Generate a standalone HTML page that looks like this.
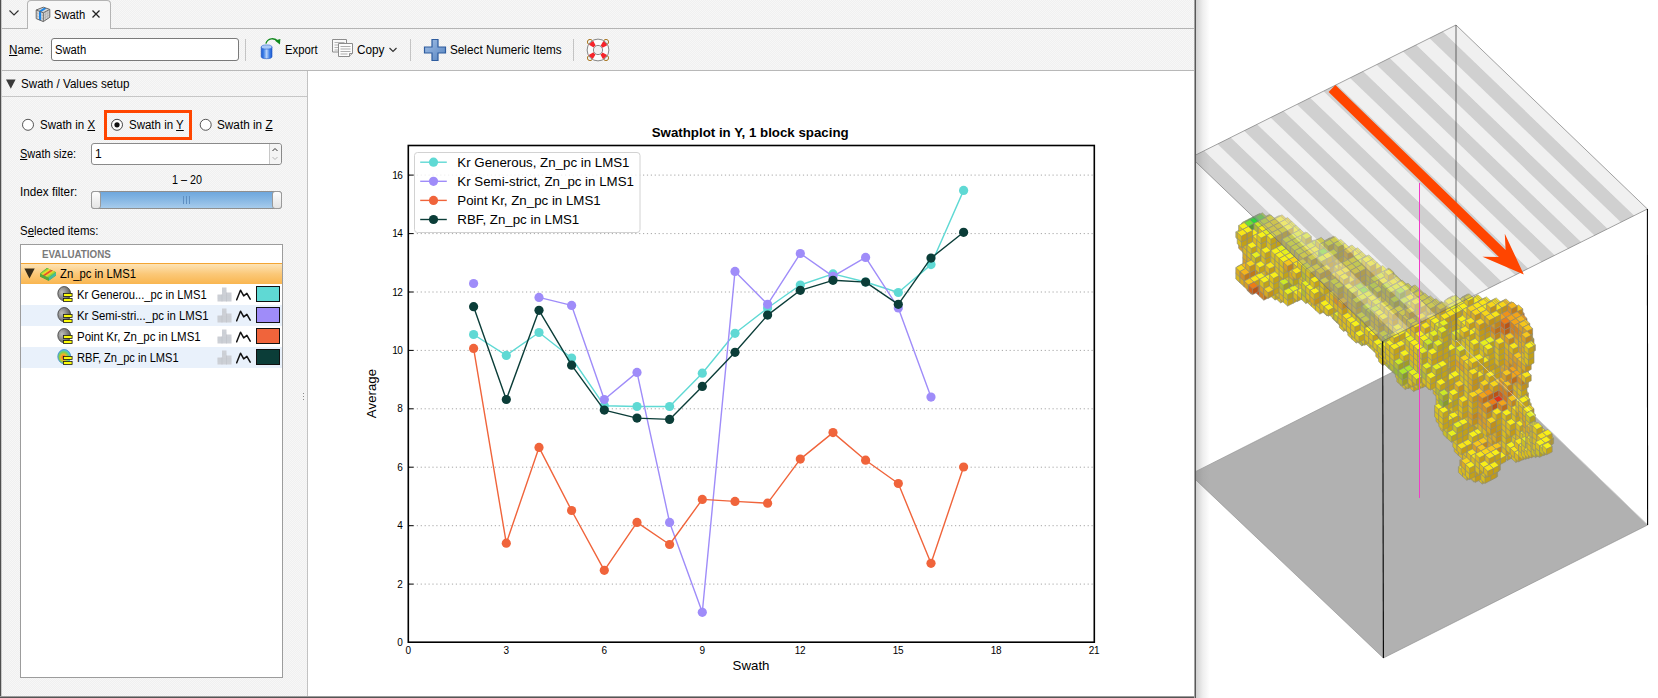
<!DOCTYPE html>
<html><head><meta charset="utf-8"><title>Swath</title>
<style>
*{box-sizing:border-box;margin:0;padding:0}
html,body{width:1658px;height:698px;overflow:hidden;background:#fff}
body{position:relative;font-family:"Liberation Sans",sans-serif;font-size:12px;color:#000}
.a{position:absolute}
.t{position:absolute;white-space:nowrap;line-height:14px;height:14px;transform-origin:0 50%}
u{text-decoration:underline;text-underline-offset:1px}
#win{position:absolute;left:0;top:0;width:1196px;height:698px;background:repeating-conic-gradient(#f0f0f0 0% 25%,#f7f7f7 0% 50%) 0 0/2px 2px;border-left:2px solid transparent;border-bottom:2px solid transparent;border-right:2px solid transparent}
.hl{position:absolute;height:1px;background:#b4b4b4}
.vl{position:absolute;width:1px;background:#c4c4c4}
.row{position:absolute;left:21px;width:261px;height:21px}
.sw{position:absolute;left:256px;width:24px;height:16px;border:1px solid #111}
</style></head><body>
<svg class="a" style="left:0;top:0" width="1658" height="698" viewBox="0 0 1658 698">
<defs><g id="c0"><polygon points="0.0,0.0 5.6,-2.9 9.8,1.0 4.2,3.9" fill="#28d73c"/><polygon points="0.0,0.0 4.2,3.9 4.2,9.6 0.0,5.7" fill="#23aa4e"/><polygon points="4.2,3.9 9.8,1.0 9.8,6.7 4.2,9.6" fill="#1f903c"/><path d="M0 0L5.6 -2.9L9.8 1.0L4.2 3.9ZM0 0V5.7L4.2 9.6L9.8 6.7V1.0M4.2 3.9V9.6" fill="none" stroke="#8a8a7c" stroke-opacity=".9" stroke-width=".7"/></g><g id="c1"><polygon points="0.0,0.0 5.6,-2.9 9.8,1.0 4.2,3.9" fill="#3fda39"/><polygon points="0.0,0.0 4.2,3.9 4.2,9.6 0.0,5.7" fill="#37ac4a"/><polygon points="4.2,3.9 9.8,1.0 9.8,6.7 4.2,9.6" fill="#319239"/><path d="M0 0L5.6 -2.9L9.8 1.0L4.2 3.9ZM0 0V5.7L4.2 9.6L9.8 6.7V1.0M4.2 3.9V9.6" fill="none" stroke="#8a8a7c" stroke-opacity=".9" stroke-width=".7"/></g><g id="c2"><polygon points="0.0,0.0 5.6,-2.9 9.8,1.0 4.2,3.9" fill="#57dd36"/><polygon points="0.0,0.0 4.2,3.9 4.2,9.6 0.0,5.7" fill="#4cae46"/><polygon points="4.2,3.9 9.8,1.0 9.8,6.7 4.2,9.6" fill="#449436"/><path d="M0 0L5.6 -2.9L9.8 1.0L4.2 3.9ZM0 0V5.7L4.2 9.6L9.8 6.7V1.0M4.2 3.9V9.6" fill="none" stroke="#8a8a7c" stroke-opacity=".9" stroke-width=".7"/></g><g id="c3"><polygon points="0.0,0.0 5.6,-2.9 9.8,1.0 4.2,3.9" fill="#6ee033"/><polygon points="0.0,0.0 4.2,3.9 4.2,9.6 0.0,5.7" fill="#60b143"/><polygon points="4.2,3.9 9.8,1.0 9.8,6.7 4.2,9.6" fill="#569633"/><path d="M0 0L5.6 -2.9L9.8 1.0L4.2 3.9ZM0 0V5.7L4.2 9.6L9.8 6.7V1.0M4.2 3.9V9.6" fill="none" stroke="#8a8a7c" stroke-opacity=".9" stroke-width=".7"/></g><g id="c4"><polygon points="0.0,0.0 5.6,-2.9 9.8,1.0 4.2,3.9" fill="#8be32f"/><polygon points="0.0,0.0 4.2,3.9 4.2,9.6 0.0,5.7" fill="#79b33e"/><polygon points="4.2,3.9 9.8,1.0 9.8,6.7 4.2,9.6" fill="#6d982f"/><path d="M0 0L5.6 -2.9L9.8 1.0L4.2 3.9ZM0 0V5.7L4.2 9.6L9.8 6.7V1.0M4.2 3.9V9.6" fill="none" stroke="#8a8a7c" stroke-opacity=".9" stroke-width=".7"/></g><g id="c5"><polygon points="0.0,0.0 5.6,-2.9 9.8,1.0 4.2,3.9" fill="#ade62b"/><polygon points="0.0,0.0 4.2,3.9 4.2,9.6 0.0,5.7" fill="#96b638"/><polygon points="4.2,3.9 9.8,1.0 9.8,6.7 4.2,9.6" fill="#879a2b"/><path d="M0 0L5.6 -2.9L9.8 1.0L4.2 3.9ZM0 0V5.7L4.2 9.6L9.8 6.7V1.0M4.2 3.9V9.6" fill="none" stroke="#8a8a7c" stroke-opacity=".9" stroke-width=".7"/></g><g id="c6"><polygon points="0.0,0.0 5.6,-2.9 9.8,1.0 4.2,3.9" fill="#ccea25"/><polygon points="0.0,0.0 4.2,3.9 4.2,9.6 0.0,5.7" fill="#b1b931"/><polygon points="4.2,3.9 9.8,1.0 9.8,6.7 4.2,9.6" fill="#9f9d25"/><path d="M0 0L5.6 -2.9L9.8 1.0L4.2 3.9ZM0 0V5.7L4.2 9.6L9.8 6.7V1.0M4.2 3.9V9.6" fill="none" stroke="#8a8a7c" stroke-opacity=".9" stroke-width=".7"/></g><g id="c7"><polygon points="0.0,0.0 5.6,-2.9 9.8,1.0 4.2,3.9" fill="#e6f01d"/><polygon points="0.0,0.0 4.2,3.9 4.2,9.6 0.0,5.7" fill="#c8bd26"/><polygon points="4.2,3.9 9.8,1.0 9.8,6.7 4.2,9.6" fill="#b4a01d"/><path d="M0 0L5.6 -2.9L9.8 1.0L4.2 3.9ZM0 0V5.7L4.2 9.6L9.8 6.7V1.0M4.2 3.9V9.6" fill="none" stroke="#8a8a7c" stroke-opacity=".9" stroke-width=".7"/></g><g id="c8"><polygon points="0.0,0.0 5.6,-2.9 9.8,1.0 4.2,3.9" fill="#f7f218"/><polygon points="0.0,0.0 4.2,3.9 4.2,9.6 0.0,5.7" fill="#d7bf1f"/><polygon points="4.2,3.9 9.8,1.0 9.8,6.7 4.2,9.6" fill="#c1a218"/><path d="M0 0L5.6 -2.9L9.8 1.0L4.2 3.9ZM0 0V5.7L4.2 9.6L9.8 6.7V1.0M4.2 3.9V9.6" fill="none" stroke="#8a8a7c" stroke-opacity=".9" stroke-width=".7"/></g><g id="c9"><polygon points="0.0,0.0 5.6,-2.9 9.8,1.0 4.2,3.9" fill="#f9ef17"/><polygon points="0.0,0.0 4.2,3.9 4.2,9.6 0.0,5.7" fill="#d9bd1d"/><polygon points="4.2,3.9 9.8,1.0 9.8,6.7 4.2,9.6" fill="#c2a017"/><path d="M0 0L5.6 -2.9L9.8 1.0L4.2 3.9ZM0 0V5.7L4.2 9.6L9.8 6.7V1.0M4.2 3.9V9.6" fill="none" stroke="#8a8a7c" stroke-opacity=".9" stroke-width=".7"/></g><g id="c10"><polygon points="0.0,0.0 5.6,-2.9 9.8,1.0 4.2,3.9" fill="#f9e617"/><polygon points="0.0,0.0 4.2,3.9 4.2,9.6 0.0,5.7" fill="#d9b61e"/><polygon points="4.2,3.9 9.8,1.0 9.8,6.7 4.2,9.6" fill="#c29a17"/><path d="M0 0L5.6 -2.9L9.8 1.0L4.2 3.9ZM0 0V5.7L4.2 9.6L9.8 6.7V1.0M4.2 3.9V9.6" fill="none" stroke="#8a8a7c" stroke-opacity=".9" stroke-width=".7"/></g><g id="c11"><polygon points="0.0,0.0 5.6,-2.9 9.8,1.0 4.2,3.9" fill="#f8d619"/><polygon points="0.0,0.0 4.2,3.9 4.2,9.6 0.0,5.7" fill="#d8a921"/><polygon points="4.2,3.9 9.8,1.0 9.8,6.7 4.2,9.6" fill="#c19019"/><path d="M0 0L5.6 -2.9L9.8 1.0L4.2 3.9ZM0 0V5.7L4.2 9.6L9.8 6.7V1.0M4.2 3.9V9.6" fill="none" stroke="#8a8a7c" stroke-opacity=".9" stroke-width=".7"/></g><g id="c12"><polygon points="0.0,0.0 5.6,-2.9 9.8,1.0 4.2,3.9" fill="#f6c71c"/><polygon points="0.0,0.0 4.2,3.9 4.2,9.6 0.0,5.7" fill="#d69d24"/><polygon points="4.2,3.9 9.8,1.0 9.8,6.7 4.2,9.6" fill="#c0851c"/><path d="M0 0L5.6 -2.9L9.8 1.0L4.2 3.9ZM0 0V5.7L4.2 9.6L9.8 6.7V1.0M4.2 3.9V9.6" fill="none" stroke="#8a8a7c" stroke-opacity=".9" stroke-width=".7"/></g><g id="c13"><polygon points="0.0,0.0 5.6,-2.9 9.8,1.0 4.2,3.9" fill="#f4b51b"/><polygon points="0.0,0.0 4.2,3.9 4.2,9.6 0.0,5.7" fill="#d48f23"/><polygon points="4.2,3.9 9.8,1.0 9.8,6.7 4.2,9.6" fill="#be7a1b"/><path d="M0 0L5.6 -2.9L9.8 1.0L4.2 3.9ZM0 0V5.7L4.2 9.6L9.8 6.7V1.0M4.2 3.9V9.6" fill="none" stroke="#8a8a7c" stroke-opacity=".9" stroke-width=".7"/></g><g id="c14"><polygon points="0.0,0.0 5.6,-2.9 9.8,1.0 4.2,3.9" fill="#f2a419"/><polygon points="0.0,0.0 4.2,3.9 4.2,9.6 0.0,5.7" fill="#d28221"/><polygon points="4.2,3.9 9.8,1.0 9.8,6.7 4.2,9.6" fill="#bd6e19"/><path d="M0 0L5.6 -2.9L9.8 1.0L4.2 3.9ZM0 0V5.7L4.2 9.6L9.8 6.7V1.0M4.2 3.9V9.6" fill="none" stroke="#8a8a7c" stroke-opacity=".9" stroke-width=".7"/></g><g id="c15"><polygon points="0.0,0.0 5.6,-2.9 9.8,1.0 4.2,3.9" fill="#ef9218"/><polygon points="0.0,0.0 4.2,3.9 4.2,9.6 0.0,5.7" fill="#d0731f"/><polygon points="4.2,3.9 9.8,1.0 9.8,6.7 4.2,9.6" fill="#bb6218"/><path d="M0 0L5.6 -2.9L9.8 1.0L4.2 3.9ZM0 0V5.7L4.2 9.6L9.8 6.7V1.0M4.2 3.9V9.6" fill="none" stroke="#8a8a7c" stroke-opacity=".9" stroke-width=".7"/></g><g id="c16"><polygon points="0.0,0.0 5.6,-2.9 9.8,1.0 4.2,3.9" fill="#ec7c17"/><polygon points="0.0,0.0 4.2,3.9 4.2,9.6 0.0,5.7" fill="#cd621e"/><polygon points="4.2,3.9 9.8,1.0 9.8,6.7 4.2,9.6" fill="#b85317"/><path d="M0 0L5.6 -2.9L9.8 1.0L4.2 3.9ZM0 0V5.7L4.2 9.6L9.8 6.7V1.0M4.2 3.9V9.6" fill="none" stroke="#8a8a7c" stroke-opacity=".9" stroke-width=".7"/></g><g id="c17"><polygon points="0.0,0.0 5.6,-2.9 9.8,1.0 4.2,3.9" fill="#e86616"/><polygon points="0.0,0.0 4.2,3.9 4.2,9.6 0.0,5.7" fill="#ca511d"/><polygon points="4.2,3.9 9.8,1.0 9.8,6.7 4.2,9.6" fill="#b54416"/><path d="M0 0L5.6 -2.9L9.8 1.0L4.2 3.9ZM0 0V5.7L4.2 9.6L9.8 6.7V1.0M4.2 3.9V9.6" fill="none" stroke="#8a8a7c" stroke-opacity=".9" stroke-width=".7"/></g><g id="c18"><polygon points="0.0,0.0 5.6,-2.9 9.8,1.0 4.2,3.9" fill="#e44c17"/><polygon points="0.0,0.0 4.2,3.9 4.2,9.6 0.0,5.7" fill="#c73c1e"/><polygon points="4.2,3.9 9.8,1.0 9.8,6.7 4.2,9.6" fill="#b23317"/><path d="M0 0L5.6 -2.9L9.8 1.0L4.2 3.9ZM0 0V5.7L4.2 9.6L9.8 6.7V1.0M4.2 3.9V9.6" fill="none" stroke="#8a8a7c" stroke-opacity=".9" stroke-width=".7"/></g><g id="c19"><polygon points="0.0,0.0 5.6,-2.9 9.8,1.0 4.2,3.9" fill="#e03218"/><polygon points="0.0,0.0 4.2,3.9 4.2,9.6 0.0,5.7" fill="#c3281f"/><polygon points="4.2,3.9 9.8,1.0 9.8,6.7 4.2,9.6" fill="#af2218"/><path d="M0 0L5.6 -2.9L9.8 1.0L4.2 3.9ZM0 0V5.7L4.2 9.6L9.8 6.7V1.0M4.2 3.9V9.6" fill="none" stroke="#8a8a7c" stroke-opacity=".9" stroke-width=".7"/></g></defs>
<polygon points="1190.0,474.4 1456.0,340.0 1647.6,525.0 1383.4,658.0" fill="#b1b1b1" stroke="#8a8a8a" stroke-width=".6"/>
<g shape-rendering="auto"><use href="#c0" x="1254.0" y="216.4"/><use href="#c7" x="1263.8" y="217.4"/><use href="#c7" x="1273.6" y="218.4"/><use href="#c0" x="1248.4" y="219.3"/><use href="#c4" x="1242.8" y="222.2"/><use href="#c1" x="1252.6" y="217.5"/><use href="#c8" x="1262.4" y="218.5"/><use href="#c9" x="1272.2" y="219.5"/><use href="#c11" x="1282.0" y="220.5"/><use href="#c9" x="1276.4" y="293.3"/><use href="#c8" x="1286.2" y="224.4"/><use href="#c9" x="1300.2" y="235.0"/><use href="#c15" x="1247.0" y="284.6"/><use href="#c9" x="1469.6" y="472.4"/><use href="#c5" x="1256.8" y="215.7"/><use href="#c11" x="1276.4" y="217.7"/><use href="#c6" x="1241.4" y="223.3"/><use href="#c7" x="1290.4" y="228.3"/><use href="#c8" x="1235.8" y="231.9"/><use href="#c9" x="1324.0" y="240.9"/><use href="#c8" x="1270.8" y="290.5"/><use href="#c1" x="1251.2" y="218.6"/><use href="#c10" x="1280.6" y="221.6"/><use href="#c9" x="1294.6" y="232.2"/><use href="#c9" x="1308.6" y="242.8"/><use href="#c12" x="1459.8" y="460.0"/><use href="#c0" x="1245.6" y="221.5"/><use href="#c8" x="1284.8" y="225.5"/><use href="#c11" x="1328.2" y="239.1"/><use href="#c9" x="1352.0" y="250.7"/><use href="#c12" x="1242.8" y="257.9"/><use href="#c11" x="1237.2" y="266.5"/><use href="#c17" x="1255.4" y="286.7"/><use href="#c9" x="1275.0" y="288.7"/><use href="#c7" x="1332.4" y="312.9"/><use href="#c9" x="1478.0" y="474.5"/><use href="#c2" x="1255.4" y="216.8"/><use href="#c8" x="1265.2" y="217.8"/><use href="#c9" x="1275.0" y="218.8"/><use href="#c8" x="1289.0" y="229.4"/><use href="#c10" x="1303.0" y="240.0"/><use href="#c12" x="1238.6" y="242.6"/><use href="#c9" x="1356.2" y="254.6"/><use href="#c11" x="1242.8" y="252.2"/><use href="#c14" x="1259.6" y="290.6"/><use href="#c10" x="1279.2" y="292.6"/><use href="#c9" x="1289.0" y="293.6"/><use href="#c8" x="1322.6" y="306.2"/><use href="#c9" x="1336.6" y="316.8"/><use href="#c9" x="1458.4" y="466.8"/><use href="#c7" x="1487.8" y="469.8"/><use href="#c0" x="1249.8" y="219.7"/><use href="#c6" x="1259.6" y="220.7"/><use href="#c10" x="1269.4" y="221.7"/><use href="#c9" x="1279.2" y="222.7"/><use href="#c7" x="1293.2" y="233.3"/><use href="#c9" x="1346.4" y="247.9"/><use href="#c10" x="1242.8" y="246.5"/><use href="#c8" x="1360.4" y="258.5"/><use href="#c11" x="1247.0" y="256.1"/><use href="#c13" x="1241.4" y="264.7"/><use href="#c11" x="1251.2" y="265.7"/><use href="#c10" x="1261.0" y="266.7"/><use href="#c10" x="1235.8" y="273.3"/><use href="#c8" x="1255.4" y="275.3"/><use href="#c8" x="1265.2" y="276.3"/><use href="#c6" x="1284.8" y="278.3"/><use href="#c7" x="1294.6" y="279.3"/><use href="#c14" x="1249.8" y="283.9"/><use href="#c12" x="1259.6" y="284.9"/><use href="#c9" x="1269.4" y="285.9"/><use href="#c8" x="1279.2" y="286.9"/><use href="#c7" x="1289.0" y="287.9"/><use href="#c9" x="1283.4" y="296.5"/><use href="#c9" x="1462.6" y="470.7"/><use href="#c3" x="1244.2" y="222.6"/><use href="#c6" x="1254.0" y="223.6"/><use href="#c9" x="1263.8" y="224.6"/><use href="#c10" x="1273.6" y="225.6"/><use href="#c8" x="1283.4" y="226.6"/><use href="#c9" x="1248.4" y="232.2"/><use href="#c7" x="1287.6" y="236.2"/><use href="#c7" x="1297.4" y="237.2"/><use href="#c8" x="1326.8" y="240.2"/><use href="#c10" x="1242.8" y="240.8"/><use href="#c10" x="1350.6" y="251.8"/><use href="#c9" x="1247.0" y="250.4"/><use href="#c11" x="1235.8" y="267.6"/><use href="#c13" x="1245.6" y="268.6"/><use href="#c8" x="1275.0" y="271.6"/><use href="#c8" x="1284.8" y="272.6"/><use href="#c11" x="1240.0" y="277.2"/><use href="#c10" x="1249.8" y="278.2"/><use href="#c8" x="1259.6" y="279.2"/><use href="#c8" x="1269.4" y="280.2"/><use href="#c6" x="1279.2" y="281.2"/><use href="#c9" x="1298.8" y="283.2"/><use href="#c11" x="1263.8" y="288.8"/><use href="#c7" x="1283.4" y="290.8"/><use href="#c9" x="1293.2" y="291.8"/><use href="#c10" x="1345.0" y="324.6"/><use href="#c10" x="1454.2" y="445.8"/><use href="#c9" x="1503.2" y="450.8"/><use href="#c8" x="1238.6" y="225.5"/><use href="#c9" x="1258.2" y="227.5"/><use href="#c10" x="1268.0" y="228.5"/><use href="#c8" x="1277.8" y="229.5"/><use href="#c9" x="1242.8" y="235.1"/><use href="#c10" x="1252.6" y="236.1"/><use href="#c9" x="1272.2" y="238.1"/><use href="#c7" x="1282.0" y="239.1"/><use href="#c7" x="1291.8" y="240.1"/><use href="#c6" x="1311.4" y="242.1"/><use href="#c9" x="1247.0" y="244.7"/><use href="#c8" x="1256.8" y="245.7"/><use href="#c7" x="1276.4" y="247.7"/><use href="#c9" x="1354.8" y="255.7"/><use href="#c7" x="1251.2" y="254.3"/><use href="#c9" x="1261.0" y="255.3"/><use href="#c8" x="1270.8" y="256.3"/><use href="#c11" x="1245.6" y="262.9"/><use href="#c9" x="1255.4" y="263.9"/><use href="#c10" x="1265.2" y="264.9"/><use href="#c9" x="1275.0" y="265.9"/><use href="#c13" x="1240.0" y="271.5"/><use href="#c9" x="1269.4" y="274.5"/><use href="#c7" x="1289.0" y="276.5"/><use href="#c8" x="1298.8" y="277.5"/><use href="#c12" x="1244.2" y="281.1"/><use href="#c9" x="1307.2" y="296.7"/><use href="#c10" x="1458.4" y="449.7"/><use href="#c10" x="1486.4" y="470.9"/><use href="#c9" x="1242.8" y="229.4"/><use href="#c7" x="1262.4" y="231.4"/><use href="#c9" x="1272.2" y="232.4"/><use href="#c7" x="1301.6" y="235.4"/><use href="#c9" x="1237.2" y="238.0"/><use href="#c8" x="1256.8" y="240.0"/><use href="#c8" x="1266.6" y="241.0"/><use href="#c7" x="1286.2" y="243.0"/><use href="#c7" x="1296.0" y="244.0"/><use href="#c7" x="1305.8" y="245.0"/><use href="#c9" x="1345.0" y="249.0"/><use href="#c9" x="1261.0" y="249.6"/><use href="#c8" x="1270.8" y="250.6"/><use href="#c7" x="1280.6" y="251.6"/><use href="#c9" x="1329.6" y="256.6"/><use href="#c8" x="1275.0" y="260.2"/><use href="#c8" x="1324.0" y="265.2"/><use href="#c9" x="1333.8" y="266.2"/><use href="#c7" x="1382.8" y="271.2"/><use href="#c8" x="1279.2" y="269.8"/><use href="#c11" x="1289.0" y="270.8"/><use href="#c9" x="1298.8" y="271.8"/><use href="#c16" x="1248.4" y="285.0"/><use href="#c9" x="1297.4" y="290.0"/><use href="#c9" x="1311.4" y="300.6"/><use href="#c8" x="1339.4" y="321.8"/><use href="#c10" x="1440.2" y="423.8"/><use href="#c10" x="1507.4" y="449.0"/><use href="#c10" x="1462.6" y="453.6"/><use href="#c10" x="1471.0" y="472.8"/><use href="#c9" x="1480.8" y="473.8"/><use href="#c10" x="1237.2" y="232.3"/><use href="#c8" x="1256.8" y="234.3"/><use href="#c8" x="1266.6" y="235.3"/><use href="#c8" x="1315.6" y="240.3"/><use href="#c9" x="1325.4" y="241.3"/><use href="#c9" x="1335.2" y="242.3"/><use href="#c7" x="1290.4" y="246.9"/><use href="#c8" x="1300.2" y="247.9"/><use href="#c8" x="1310.0" y="248.9"/><use href="#c8" x="1349.2" y="252.9"/><use href="#c8" x="1275.0" y="254.5"/><use href="#c8" x="1284.8" y="255.5"/><use href="#c10" x="1324.0" y="259.5"/><use href="#c9" x="1279.2" y="264.1"/><use href="#c7" x="1387.0" y="275.1"/><use href="#c8" x="1303.0" y="275.7"/><use href="#c7" x="1301.6" y="293.9"/><use href="#c9" x="1315.6" y="304.5"/><use href="#c6" x="1357.6" y="336.3"/><use href="#c10" x="1469.6" y="421.1"/><use href="#c8" x="1473.8" y="430.7"/><use href="#c9" x="1483.6" y="431.7"/><use href="#c12" x="1478.0" y="440.3"/><use href="#c12" x="1487.8" y="441.3"/><use href="#c10" x="1462.6" y="447.9"/><use href="#c9" x="1511.6" y="452.9"/><use href="#c10" x="1461.2" y="466.1"/><use href="#c10" x="1471.0" y="467.1"/><use href="#c8" x="1480.8" y="468.1"/><use href="#c7" x="1319.8" y="244.2"/><use href="#c9" x="1339.4" y="246.2"/><use href="#c7" x="1294.6" y="250.8"/><use href="#c10" x="1304.4" y="251.8"/><use href="#c7" x="1314.2" y="252.8"/><use href="#c8" x="1333.8" y="254.8"/><use href="#c9" x="1343.6" y="255.8"/><use href="#c7" x="1353.4" y="256.8"/><use href="#c7" x="1363.2" y="257.8"/><use href="#c8" x="1279.2" y="258.4"/><use href="#c11" x="1289.0" y="259.4"/><use href="#c10" x="1318.4" y="262.4"/><use href="#c10" x="1338.0" y="264.4"/><use href="#c8" x="1377.2" y="268.4"/><use href="#c8" x="1332.4" y="273.0"/><use href="#c9" x="1391.2" y="279.0"/><use href="#c6" x="1301.6" y="288.2"/><use href="#c10" x="1315.6" y="298.8"/><use href="#c8" x="1329.6" y="309.4"/><use href="#c8" x="1347.8" y="329.6"/><use href="#c10" x="1375.8" y="350.8"/><use href="#c9" x="1464.0" y="424.0"/><use href="#c9" x="1458.4" y="432.6"/><use href="#c8" x="1468.2" y="433.6"/><use href="#c11" x="1487.8" y="435.6"/><use href="#c10" x="1497.6" y="436.6"/><use href="#c8" x="1452.8" y="441.2"/><use href="#c10" x="1462.6" y="442.2"/><use href="#c12" x="1472.4" y="443.2"/><use href="#c12" x="1492.0" y="445.2"/><use href="#c10" x="1501.8" y="446.2"/><use href="#c10" x="1466.8" y="451.8"/><use href="#c9" x="1496.2" y="454.8"/><use href="#c11" x="1461.2" y="460.4"/><use href="#c9" x="1490.6" y="463.4"/><use href="#c9" x="1465.4" y="470.0"/><use href="#c8" x="1329.6" y="239.5"/><use href="#c7" x="1333.8" y="249.1"/><use href="#c11" x="1343.6" y="250.1"/><use href="#c9" x="1298.8" y="254.7"/><use href="#c10" x="1308.6" y="255.7"/><use href="#c9" x="1347.8" y="259.7"/><use href="#c7" x="1357.6" y="260.7"/><use href="#c9" x="1367.4" y="261.7"/><use href="#c12" x="1283.4" y="262.3"/><use href="#c10" x="1293.2" y="263.3"/><use href="#c8" x="1381.4" y="272.3"/><use href="#c7" x="1356.2" y="278.9"/><use href="#c7" x="1366.0" y="279.9"/><use href="#c8" x="1395.4" y="282.9"/><use href="#c7" x="1301.6" y="282.5"/><use href="#c9" x="1305.8" y="292.1"/><use href="#c10" x="1315.6" y="293.1"/><use href="#c10" x="1325.4" y="294.1"/><use href="#c9" x="1319.8" y="302.7"/><use href="#c8" x="1329.6" y="303.7"/><use href="#c7" x="1333.8" y="313.3"/><use href="#c8" x="1352.0" y="333.5"/><use href="#c10" x="1464.0" y="418.3"/><use href="#c10" x="1473.8" y="419.3"/><use href="#c9" x="1458.4" y="426.9"/><use href="#c11" x="1487.8" y="429.9"/><use href="#c9" x="1452.8" y="435.5"/><use href="#c9" x="1501.8" y="440.5"/><use href="#c10" x="1457.0" y="445.1"/><use href="#c12" x="1476.6" y="447.1"/><use href="#c12" x="1486.4" y="448.1"/><use href="#c10" x="1471.0" y="455.7"/><use href="#c8" x="1490.6" y="457.7"/><use href="#c9" x="1465.4" y="464.3"/><use href="#c9" x="1475.2" y="465.3"/><use href="#c7" x="1324.0" y="242.4"/><use href="#c7" x="1333.8" y="243.4"/><use href="#c4" x="1318.4" y="251.0"/><use href="#c7" x="1328.2" y="252.0"/><use href="#c9" x="1342.2" y="262.6"/><use href="#c7" x="1352.0" y="263.6"/><use href="#c9" x="1371.6" y="265.6"/><use href="#c8" x="1356.2" y="273.2"/><use href="#c7" x="1366.0" y="274.2"/><use href="#c7" x="1375.8" y="275.2"/><use href="#c8" x="1409.4" y="287.8"/><use href="#c8" x="1305.8" y="286.4"/><use href="#c7" x="1315.6" y="287.4"/><use href="#c9" x="1325.4" y="288.4"/><use href="#c11" x="1310.0" y="296.0"/><use href="#c9" x="1329.6" y="298.0"/><use href="#c9" x="1324.0" y="306.6"/><use href="#c10" x="1338.0" y="317.2"/><use href="#c7" x="1366.0" y="338.4"/><use href="#c6" x="1384.2" y="358.6"/><use href="#c9" x="1454.2" y="411.6"/><use href="#c10" x="1464.0" y="412.6"/><use href="#c8" x="1458.4" y="421.2"/><use href="#c10" x="1478.0" y="423.2"/><use href="#c7" x="1443.0" y="428.8"/><use href="#c9" x="1452.8" y="429.8"/><use href="#c11" x="1492.0" y="433.8"/><use href="#c9" x="1501.8" y="434.8"/><use href="#c8" x="1511.6" y="435.8"/><use href="#c8" x="1506.0" y="444.4"/><use href="#c11" x="1480.8" y="451.0"/><use href="#c9" x="1490.6" y="452.0"/><use href="#c9" x="1475.2" y="459.6"/><use href="#c8" x="1322.6" y="254.9"/><use href="#c8" x="1361.8" y="258.9"/><use href="#c9" x="1297.4" y="261.5"/><use href="#c9" x="1346.4" y="266.5"/><use href="#c9" x="1356.2" y="267.5"/><use href="#c10" x="1366.0" y="268.5"/><use href="#c10" x="1291.8" y="270.1"/><use href="#c6" x="1301.6" y="271.1"/><use href="#c9" x="1321.2" y="273.1"/><use href="#c10" x="1331.0" y="274.1"/><use href="#c10" x="1350.6" y="276.1"/><use href="#c7" x="1370.2" y="278.1"/><use href="#c9" x="1389.8" y="280.1"/><use href="#c7" x="1315.6" y="281.7"/><use href="#c9" x="1325.4" y="282.7"/><use href="#c5" x="1354.8" y="285.7"/><use href="#c7" x="1364.6" y="286.7"/><use href="#c9" x="1413.6" y="291.7"/><use href="#c9" x="1462.6" y="296.7"/><use href="#c10" x="1472.4" y="297.7"/><use href="#c9" x="1310.0" y="290.3"/><use href="#c10" x="1329.6" y="292.3"/><use href="#c10" x="1333.8" y="301.9"/><use href="#c10" x="1338.0" y="311.5"/><use href="#c9" x="1342.2" y="321.1"/><use href="#c7" x="1370.2" y="342.3"/><use href="#c5" x="1388.4" y="362.5"/><use href="#c7" x="1444.4" y="404.9"/><use href="#c9" x="1454.2" y="405.9"/><use href="#c9" x="1448.6" y="414.5"/><use href="#c11" x="1468.2" y="416.5"/><use href="#c12" x="1478.0" y="417.5"/><use href="#c8" x="1443.0" y="423.1"/><use href="#c7" x="1452.8" y="424.1"/><use href="#c10" x="1482.2" y="427.1"/><use href="#c11" x="1492.0" y="428.1"/><use href="#c9" x="1501.8" y="429.1"/><use href="#c8" x="1511.6" y="430.1"/><use href="#c7" x="1447.2" y="432.7"/><use href="#c10" x="1510.2" y="448.3"/><use href="#c10" x="1475.2" y="453.9"/><use href="#c10" x="1485.0" y="454.9"/><use href="#c9" x="1479.4" y="463.5"/><use href="#c9" x="1489.2" y="464.5"/><use href="#c8" x="1307.2" y="256.8"/><use href="#c7" x="1317.0" y="257.8"/><use href="#c9" x="1366.0" y="262.8"/><use href="#c7" x="1301.6" y="265.4"/><use href="#c9" x="1311.4" y="266.4"/><use href="#c10" x="1321.2" y="267.4"/><use href="#c10" x="1340.8" y="269.4"/><use href="#c10" x="1350.6" y="270.4"/><use href="#c7" x="1305.8" y="275.0"/><use href="#c10" x="1345.0" y="279.0"/><use href="#c9" x="1374.4" y="282.0"/><use href="#c8" x="1319.8" y="285.6"/><use href="#c8" x="1349.2" y="288.6"/><use href="#c4" x="1359.0" y="289.6"/><use href="#c12" x="1447.2" y="298.6"/><use href="#c13" x="1506.0" y="304.6"/><use href="#c13" x="1333.8" y="296.2"/><use href="#c10" x="1338.0" y="305.8"/><use href="#c9" x="1347.8" y="306.8"/><use href="#c10" x="1342.2" y="315.4"/><use href="#c9" x="1346.4" y="325.0"/><use href="#c8" x="1360.4" y="335.6"/><use href="#c9" x="1374.4" y="346.2"/><use href="#c8" x="1378.6" y="355.8"/><use href="#c5" x="1392.6" y="366.4"/><use href="#c9" x="1396.8" y="376.0"/><use href="#c10" x="1458.4" y="409.8"/><use href="#c12" x="1468.2" y="410.8"/><use href="#c13" x="1478.0" y="411.8"/><use href="#c9" x="1443.0" y="417.4"/><use href="#c12" x="1482.2" y="421.4"/><use href="#c10" x="1492.0" y="422.4"/><use href="#c10" x="1501.8" y="423.4"/><use href="#c10" x="1515.8" y="434.0"/><use href="#c10" x="1514.4" y="452.2"/><use href="#c10" x="1483.6" y="467.4"/><use href="#c9" x="1305.8" y="269.3"/><use href="#c10" x="1315.6" y="270.3"/><use href="#c10" x="1335.2" y="272.3"/><use href="#c9" x="1310.0" y="278.9"/><use href="#c8" x="1319.8" y="279.9"/><use href="#c7" x="1329.6" y="280.9"/><use href="#c6" x="1368.8" y="284.9"/><use href="#c9" x="1408.0" y="288.9"/><use href="#c10" x="1333.8" y="290.5"/><use href="#c9" x="1343.6" y="291.5"/><use href="#c7" x="1353.4" y="292.5"/><use href="#c7" x="1363.2" y="293.5"/><use href="#c12" x="1338.0" y="300.1"/><use href="#c10" x="1347.8" y="301.1"/><use href="#c9" x="1352.0" y="310.7"/><use href="#c9" x="1346.4" y="319.3"/><use href="#c9" x="1350.6" y="328.9"/><use href="#c8" x="1378.6" y="350.1"/><use href="#c10" x="1490.6" y="370.7"/><use href="#c13" x="1500.4" y="371.7"/><use href="#c12" x="1494.8" y="380.3"/><use href="#c8" x="1401.0" y="379.9"/><use href="#c16" x="1489.2" y="388.9"/><use href="#c16" x="1499.0" y="389.9"/><use href="#c11" x="1518.6" y="391.9"/><use href="#c19" x="1493.4" y="398.5"/><use href="#c8" x="1448.6" y="403.1"/><use href="#c9" x="1458.4" y="404.1"/><use href="#c10" x="1468.2" y="405.1"/><use href="#c12" x="1478.0" y="406.1"/><use href="#c12" x="1482.2" y="415.7"/><use href="#c9" x="1492.0" y="416.7"/><use href="#c10" x="1501.8" y="417.7"/><use href="#c11" x="1486.4" y="425.3"/><use href="#c10" x="1506.0" y="427.3"/><use href="#c10" x="1515.8" y="428.3"/><use href="#c9" x="1384.2" y="271.6"/><use href="#c9" x="1339.4" y="276.2"/><use href="#c9" x="1378.6" y="280.2"/><use href="#c9" x="1388.4" y="281.2"/><use href="#c7" x="1333.8" y="284.8"/><use href="#c8" x="1343.6" y="285.8"/><use href="#c7" x="1373.0" y="288.8"/><use href="#c7" x="1412.2" y="292.8"/><use href="#c10" x="1461.2" y="297.8"/><use href="#c10" x="1471.0" y="298.8"/><use href="#c9" x="1480.8" y="299.8"/><use href="#c10" x="1490.6" y="300.8"/><use href="#c12" x="1500.4" y="301.8"/><use href="#c8" x="1347.8" y="295.4"/><use href="#c7" x="1357.6" y="296.4"/><use href="#c8" x="1367.4" y="297.4"/><use href="#c9" x="1377.2" y="298.4"/><use href="#c8" x="1436.0" y="304.4"/><use href="#c16" x="1514.4" y="312.4"/><use href="#c8" x="1352.0" y="305.0"/><use href="#c6" x="1361.8" y="306.0"/><use href="#c7" x="1356.2" y="314.6"/><use href="#c8" x="1350.6" y="323.2"/><use href="#c8" x="1360.4" y="324.2"/><use href="#c8" x="1354.8" y="332.8"/><use href="#c9" x="1364.6" y="333.8"/><use href="#c8" x="1382.8" y="354.0"/><use href="#c9" x="1490.6" y="365.0"/><use href="#c12" x="1500.4" y="366.0"/><use href="#c9" x="1475.2" y="372.6"/><use href="#c10" x="1485.0" y="373.6"/><use href="#c10" x="1469.6" y="381.2"/><use href="#c11" x="1479.4" y="382.2"/><use href="#c11" x="1489.2" y="383.2"/><use href="#c14" x="1499.0" y="384.2"/><use href="#c10" x="1454.2" y="388.8"/><use href="#c8" x="1464.0" y="389.8"/><use href="#c12" x="1473.8" y="390.8"/><use href="#c15" x="1483.6" y="391.8"/><use href="#c15" x="1503.2" y="393.8"/><use href="#c7" x="1448.6" y="397.4"/><use href="#c10" x="1458.4" y="398.4"/><use href="#c10" x="1468.2" y="399.4"/><use href="#c13" x="1478.0" y="400.4"/><use href="#c16" x="1487.8" y="401.4"/><use href="#c14" x="1497.6" y="402.4"/><use href="#c11" x="1507.4" y="403.4"/><use href="#c11" x="1482.2" y="410.0"/><use href="#c10" x="1492.0" y="411.0"/><use href="#c9" x="1501.8" y="412.0"/><use href="#c9" x="1511.6" y="413.0"/><use href="#c11" x="1486.4" y="419.6"/><use href="#c9" x="1506.0" y="421.6"/><use href="#c9" x="1515.8" y="422.6"/><use href="#c8" x="1520.0" y="432.2"/><use href="#c10" x="1514.4" y="440.8"/><use href="#c9" x="1518.6" y="450.4"/><use href="#c9" x="1382.8" y="284.1"/><use href="#c8" x="1392.6" y="285.1"/><use href="#c8" x="1402.4" y="286.1"/><use href="#c7" x="1347.8" y="289.7"/><use href="#c10" x="1445.8" y="299.7"/><use href="#c13" x="1504.6" y="305.7"/><use href="#c7" x="1352.0" y="299.3"/><use href="#c7" x="1371.6" y="301.3"/><use href="#c6" x="1366.0" y="309.9"/><use href="#c7" x="1360.4" y="318.5"/><use href="#c8" x="1370.2" y="319.5"/><use href="#c8" x="1364.6" y="328.1"/><use href="#c9" x="1368.8" y="337.7"/><use href="#c10" x="1490.6" y="359.3"/><use href="#c11" x="1500.4" y="360.3"/><use href="#c7" x="1387.0" y="357.9"/><use href="#c10" x="1445.8" y="363.9"/><use href="#c10" x="1455.6" y="364.9"/><use href="#c8" x="1450.0" y="373.5"/><use href="#c8" x="1459.8" y="374.5"/><use href="#c13" x="1499.0" y="378.5"/><use href="#c10" x="1518.6" y="380.5"/><use href="#c10" x="1424.8" y="380.1"/><use href="#c10" x="1444.4" y="382.1"/><use href="#c11" x="1454.2" y="383.1"/><use href="#c9" x="1464.0" y="384.1"/><use href="#c14" x="1503.2" y="388.1"/><use href="#c11" x="1513.0" y="389.1"/><use href="#c8" x="1448.6" y="391.7"/><use href="#c11" x="1468.2" y="393.7"/><use href="#c14" x="1478.0" y="394.7"/><use href="#c12" x="1507.4" y="397.7"/><use href="#c8" x="1443.0" y="400.3"/><use href="#c13" x="1482.2" y="404.3"/><use href="#c10" x="1511.6" y="407.3"/><use href="#c9" x="1518.6" y="444.7"/><use href="#c8" x="1406.6" y="290.0"/><use href="#c9" x="1381.4" y="296.6"/><use href="#c8" x="1430.4" y="301.6"/><use href="#c7" x="1375.8" y="305.2"/><use href="#c8" x="1370.2" y="313.8"/><use href="#c8" x="1374.4" y="323.4"/><use href="#c8" x="1384.2" y="324.4"/><use href="#c9" x="1368.8" y="332.0"/><use href="#c7" x="1378.6" y="333.0"/><use href="#c8" x="1373.0" y="341.6"/><use href="#c10" x="1445.8" y="358.2"/><use href="#c12" x="1455.6" y="359.2"/><use href="#c10" x="1485.0" y="362.2"/><use href="#c12" x="1504.6" y="364.2"/><use href="#c9" x="1440.2" y="366.8"/><use href="#c8" x="1459.8" y="368.8"/><use href="#c7" x="1395.4" y="371.4"/><use href="#c9" x="1444.4" y="376.4"/><use href="#c8" x="1464.0" y="378.4"/><use href="#c12" x="1503.2" y="382.4"/><use href="#c10" x="1513.0" y="383.4"/><use href="#c8" x="1409.4" y="382.0"/><use href="#c10" x="1438.8" y="385.0"/><use href="#c10" x="1517.2" y="393.0"/><use href="#c9" x="1521.4" y="402.6"/><use href="#c9" x="1437.4" y="403.2"/><use href="#c9" x="1396.8" y="283.3"/><use href="#c7" x="1381.4" y="290.9"/><use href="#c9" x="1410.8" y="293.9"/><use href="#c7" x="1450.0" y="297.9"/><use href="#c8" x="1459.8" y="298.9"/><use href="#c9" x="1469.6" y="299.9"/><use href="#c11" x="1479.4" y="300.9"/><use href="#c11" x="1489.2" y="301.9"/><use href="#c13" x="1499.0" y="302.9"/><use href="#c9" x="1434.6" y="305.5"/><use href="#c6" x="1370.2" y="308.1"/><use href="#c8" x="1374.4" y="317.7"/><use href="#c8" x="1384.2" y="318.7"/><use href="#c7" x="1388.4" y="328.3"/><use href="#c6" x="1382.8" y="336.9"/><use href="#c7" x="1377.2" y="345.5"/><use href="#c9" x="1445.8" y="352.5"/><use href="#c10" x="1455.6" y="353.5"/><use href="#c9" x="1485.0" y="356.5"/><use href="#c10" x="1494.8" y="357.5"/><use href="#c12" x="1504.6" y="358.5"/><use href="#c12" x="1459.8" y="363.1"/><use href="#c10" x="1479.4" y="365.1"/><use href="#c14" x="1508.8" y="368.1"/><use href="#c12" x="1518.6" y="369.1"/><use href="#c9" x="1464.0" y="372.7"/><use href="#c10" x="1473.8" y="373.7"/><use href="#c12" x="1513.0" y="377.7"/><use href="#c10" x="1438.8" y="379.3"/><use href="#c11" x="1468.2" y="382.3"/><use href="#c9" x="1517.2" y="387.3"/><use href="#c10" x="1433.2" y="387.9"/><use href="#c10" x="1515.8" y="405.5"/><use href="#c9" x="1520.0" y="415.1"/><use href="#c10" x="1436.0" y="415.7"/><use href="#c6" x="1381.4" y="285.2"/><use href="#c7" x="1391.2" y="286.2"/><use href="#c7" x="1401.0" y="287.2"/><use href="#c7" x="1385.6" y="294.8"/><use href="#c8" x="1405.2" y="296.8"/><use href="#c9" x="1424.8" y="298.8"/><use href="#c8" x="1444.4" y="300.8"/><use href="#c8" x="1454.2" y="301.8"/><use href="#c11" x="1473.8" y="303.8"/><use href="#c12" x="1513.0" y="307.8"/><use href="#c9" x="1380.0" y="303.4"/><use href="#c15" x="1517.2" y="317.4"/><use href="#c8" x="1374.4" y="312.0"/><use href="#c8" x="1388.4" y="322.6"/><use href="#c9" x="1441.6" y="337.2"/><use href="#c8" x="1451.4" y="338.2"/><use href="#c8" x="1461.2" y="339.2"/><use href="#c8" x="1445.8" y="346.8"/><use href="#c7" x="1455.6" y="347.8"/><use href="#c8" x="1465.4" y="348.8"/><use href="#c9" x="1485.0" y="350.8"/><use href="#c9" x="1494.8" y="351.8"/><use href="#c11" x="1504.6" y="352.8"/><use href="#c8" x="1381.4" y="349.4"/><use href="#c11" x="1459.8" y="357.4"/><use href="#c9" x="1479.4" y="359.4"/><use href="#c10" x="1464.0" y="367.0"/><use href="#c14" x="1513.0" y="372.0"/><use href="#c9" x="1438.8" y="373.6"/><use href="#c11" x="1468.2" y="376.6"/><use href="#c11" x="1517.2" y="381.6"/><use href="#c7" x="1403.8" y="379.2"/><use href="#c7" x="1413.6" y="380.2"/><use href="#c9" x="1515.8" y="399.8"/><use href="#c7" x="1385.6" y="289.1"/><use href="#c5" x="1395.4" y="290.1"/><use href="#c9" x="1464.0" y="297.1"/><use href="#c6" x="1389.8" y="298.7"/><use href="#c6" x="1399.6" y="299.7"/><use href="#c9" x="1409.4" y="300.7"/><use href="#c10" x="1429.0" y="302.7"/><use href="#c8" x="1448.6" y="304.7"/><use href="#c9" x="1458.4" y="305.7"/><use href="#c11" x="1468.2" y="306.7"/><use href="#c9" x="1384.2" y="307.3"/><use href="#c8" x="1394.0" y="308.3"/><use href="#c9" x="1403.8" y="309.3"/><use href="#c9" x="1378.6" y="315.9"/><use href="#c10" x="1388.4" y="316.9"/><use href="#c9" x="1398.2" y="317.9"/><use href="#c9" x="1447.2" y="322.9"/><use href="#c9" x="1457.0" y="323.9"/><use href="#c8" x="1392.6" y="326.5"/><use href="#c9" x="1441.6" y="331.5"/><use href="#c7" x="1451.4" y="332.5"/><use href="#c8" x="1461.2" y="333.5"/><use href="#c7" x="1387.0" y="335.1"/><use href="#c8" x="1465.4" y="343.1"/><use href="#c8" x="1485.0" y="345.1"/><use href="#c9" x="1494.8" y="346.1"/><use href="#c11" x="1504.6" y="347.1"/><use href="#c8" x="1381.4" y="343.7"/><use href="#c7" x="1440.2" y="349.7"/><use href="#c9" x="1469.6" y="352.7"/><use href="#c12" x="1508.8" y="356.7"/><use href="#c8" x="1385.6" y="353.3"/><use href="#c10" x="1464.0" y="361.3"/><use href="#c9" x="1473.8" y="362.3"/><use href="#c6" x="1389.8" y="362.9"/><use href="#c9" x="1438.8" y="367.9"/><use href="#c10" x="1468.2" y="370.9"/><use href="#c14" x="1507.4" y="374.9"/><use href="#c13" x="1517.2" y="375.9"/><use href="#c9" x="1437.4" y="386.1"/><use href="#c8" x="1522.8" y="431.5"/><use href="#c8" x="1521.4" y="449.7"/><use href="#c9" x="1419.2" y="296.0"/><use href="#c10" x="1478.0" y="302.0"/><use href="#c10" x="1487.8" y="303.0"/><use href="#c11" x="1497.6" y="304.0"/><use href="#c13" x="1507.4" y="305.0"/><use href="#c8" x="1452.8" y="308.6"/><use href="#c10" x="1462.6" y="309.6"/><use href="#c15" x="1501.8" y="313.6"/><use href="#c14" x="1511.6" y="314.6"/><use href="#c10" x="1388.4" y="311.2"/><use href="#c9" x="1398.2" y="312.2"/><use href="#c9" x="1447.2" y="317.2"/><use href="#c9" x="1457.0" y="318.2"/><use href="#c10" x="1402.4" y="321.8"/><use href="#c8" x="1441.6" y="325.8"/><use href="#c10" x="1471.0" y="328.8"/><use href="#c10" x="1480.8" y="329.8"/><use href="#c12" x="1490.6" y="330.8"/><use href="#c12" x="1500.4" y="331.8"/><use href="#c8" x="1396.8" y="330.4"/><use href="#c8" x="1465.4" y="337.4"/><use href="#c7" x="1485.0" y="339.4"/><use href="#c10" x="1494.8" y="340.4"/><use href="#c10" x="1504.6" y="341.4"/><use href="#c8" x="1469.6" y="347.0"/><use href="#c8" x="1479.4" y="348.0"/><use href="#c12" x="1508.8" y="351.0"/><use href="#c8" x="1385.6" y="347.6"/><use href="#c9" x="1473.8" y="356.6"/><use href="#c13" x="1513.0" y="360.6"/><use href="#c7" x="1389.8" y="357.2"/><use href="#c6" x="1399.6" y="358.2"/><use href="#c7" x="1409.4" y="359.2"/><use href="#c7" x="1438.8" y="362.2"/><use href="#c5" x="1394.0" y="366.8"/><use href="#c5" x="1403.8" y="367.8"/><use href="#c6" x="1398.2" y="376.4"/><use href="#c8" x="1408.0" y="377.4"/><use href="#c9" x="1417.8" y="378.4"/><use href="#c9" x="1437.4" y="380.4"/><use href="#c9" x="1520.0" y="398.0"/><use href="#c8" x="1436.0" y="398.6"/><use href="#c11" x="1524.2" y="407.6"/><use href="#c11" x="1522.8" y="425.8"/><use href="#c8" x="1521.4" y="444.0"/><use href="#c8" x="1423.4" y="299.9"/><use href="#c10" x="1472.4" y="304.9"/><use href="#c9" x="1482.2" y="305.9"/><use href="#c10" x="1492.0" y="306.9"/><use href="#c10" x="1466.8" y="313.5"/><use href="#c14" x="1496.2" y="316.5"/><use href="#c14" x="1506.0" y="317.5"/><use href="#c13" x="1515.8" y="318.5"/><use href="#c10" x="1402.4" y="316.1"/><use href="#c10" x="1441.6" y="320.1"/><use href="#c9" x="1461.2" y="322.1"/><use href="#c11" x="1480.8" y="324.1"/><use href="#c14" x="1490.6" y="325.1"/><use href="#c15" x="1500.4" y="326.1"/><use href="#c14" x="1510.2" y="327.1"/><use href="#c9" x="1406.6" y="325.7"/><use href="#c7" x="1455.6" y="330.7"/><use href="#c9" x="1465.4" y="331.7"/><use href="#c10" x="1475.2" y="332.7"/><use href="#c12" x="1504.6" y="335.7"/><use href="#c11" x="1514.4" y="336.7"/><use href="#c11" x="1524.2" y="337.7"/><use href="#c8" x="1401.0" y="334.3"/><use href="#c8" x="1440.2" y="338.3"/><use href="#c8" x="1469.6" y="341.3"/><use href="#c7" x="1479.4" y="342.3"/><use href="#c10" x="1508.8" y="345.3"/><use href="#c12" x="1518.6" y="346.3"/><use href="#c8" x="1385.6" y="341.9"/><use href="#c9" x="1395.4" y="342.9"/><use href="#c9" x="1405.2" y="343.9"/><use href="#c12" x="1513.0" y="354.9"/><use href="#c8" x="1389.8" y="351.5"/><use href="#c8" x="1399.6" y="352.5"/><use href="#c10" x="1409.4" y="353.5"/><use href="#c8" x="1438.8" y="356.5"/><use href="#c10" x="1468.2" y="359.5"/><use href="#c11" x="1517.2" y="364.5"/><use href="#c6" x="1394.0" y="361.1"/><use href="#c8" x="1413.6" y="363.1"/><use href="#c12" x="1501.8" y="372.1"/><use href="#c10" x="1521.4" y="374.1"/><use href="#c5" x="1398.2" y="370.7"/><use href="#c7" x="1408.0" y="371.7"/><use href="#c9" x="1437.4" y="374.7"/><use href="#c8" x="1431.8" y="383.3"/><use href="#c8" x="1436.0" y="392.9"/><use href="#c11" x="1518.6" y="410.5"/><use href="#c8" x="1434.6" y="411.1"/><use href="#c12" x="1522.8" y="420.1"/><use href="#c9" x="1438.8" y="420.7"/><use href="#c7" x="1521.4" y="438.3"/><use href="#c9" x="1413.6" y="293.2"/><use href="#c8" x="1427.6" y="303.8"/><use href="#c8" x="1437.4" y="304.8"/><use href="#c7" x="1447.2" y="305.8"/><use href="#c11" x="1466.8" y="307.8"/><use href="#c10" x="1476.6" y="308.8"/><use href="#c10" x="1412.2" y="311.4"/><use href="#c11" x="1480.8" y="318.4"/><use href="#c12" x="1490.6" y="319.4"/><use href="#c16" x="1500.4" y="320.4"/><use href="#c14" x="1510.2" y="321.4"/><use href="#c12" x="1520.0" y="322.4"/><use href="#c8" x="1406.6" y="320.0"/><use href="#c10" x="1475.2" y="327.0"/><use href="#c13" x="1514.4" y="331.0"/><use href="#c9" x="1410.8" y="329.6"/><use href="#c7" x="1440.2" y="332.6"/><use href="#c11" x="1518.6" y="340.6"/><use href="#c7" x="1405.2" y="338.2"/><use href="#c8" x="1483.6" y="346.2"/><use href="#c9" x="1389.8" y="345.8"/><use href="#c10" x="1409.4" y="347.8"/><use href="#c9" x="1438.8" y="350.8"/><use href="#c12" x="1517.2" y="358.8"/><use href="#c9" x="1413.6" y="357.4"/><use href="#c6" x="1417.8" y="367.0"/><use href="#c8" x="1437.4" y="369.0"/><use href="#c7" x="1412.2" y="375.6"/><use href="#c8" x="1422.0" y="376.6"/><use href="#c6" x="1436.0" y="387.2"/><use href="#c10" x="1518.6" y="404.8"/><use href="#c8" x="1434.6" y="405.4"/><use href="#c11" x="1522.8" y="414.4"/><use href="#c9" x="1438.8" y="415.0"/><use href="#c7" x="1525.6" y="442.2"/><use href="#c8" x="1417.8" y="297.1"/><use href="#c11" x="1486.4" y="304.1"/><use href="#c9" x="1422.0" y="306.7"/><use href="#c9" x="1431.8" y="307.7"/><use href="#c10" x="1441.6" y="308.7"/><use href="#c9" x="1451.4" y="309.7"/><use href="#c11" x="1471.0" y="311.7"/><use href="#c11" x="1480.8" y="312.7"/><use href="#c10" x="1490.6" y="313.7"/><use href="#c10" x="1416.4" y="315.3"/><use href="#c10" x="1426.2" y="316.3"/><use href="#c10" x="1465.4" y="320.3"/><use href="#c11" x="1475.2" y="321.3"/><use href="#c14" x="1514.4" y="325.3"/><use href="#c10" x="1410.8" y="323.9"/><use href="#c10" x="1420.6" y="324.9"/><use href="#c9" x="1430.4" y="325.9"/><use href="#c10" x="1459.8" y="328.9"/><use href="#c11" x="1518.6" y="334.9"/><use href="#c9" x="1395.4" y="331.5"/><use href="#c9" x="1415.0" y="333.5"/><use href="#c8" x="1424.8" y="334.5"/><use href="#c9" x="1409.4" y="342.1"/><use href="#c9" x="1438.8" y="345.1"/><use href="#c9" x="1413.6" y="351.7"/><use href="#c10" x="1433.2" y="353.7"/><use href="#c11" x="1521.4" y="362.7"/><use href="#c7" x="1417.8" y="361.3"/><use href="#c8" x="1437.4" y="363.3"/><use href="#c6" x="1422.0" y="370.9"/><use href="#c7" x="1431.8" y="371.9"/><use href="#c9" x="1426.2" y="380.5"/><use href="#c9" x="1436.0" y="381.5"/><use href="#c9" x="1518.6" y="399.1"/><use href="#c9" x="1522.8" y="408.7"/><use href="#c8" x="1438.8" y="409.3"/><use href="#c8" x="1525.6" y="436.5"/><use href="#c8" x="1412.2" y="300.0"/><use href="#c8" x="1422.0" y="301.0"/><use href="#c10" x="1436.0" y="311.6"/><use href="#c10" x="1445.8" y="312.6"/><use href="#c11" x="1485.0" y="316.6"/><use href="#c8" x="1430.4" y="320.2"/><use href="#c10" x="1440.2" y="321.2"/><use href="#c13" x="1518.6" y="329.2"/><use href="#c10" x="1522.8" y="338.8"/><use href="#c9" x="1389.8" y="334.4"/><use href="#c8" x="1419.2" y="337.4"/><use href="#c7" x="1438.8" y="339.4"/><use href="#c9" x="1413.6" y="346.0"/><use href="#c9" x="1433.2" y="348.0"/><use href="#c10" x="1521.4" y="357.0"/><use href="#c7" x="1417.8" y="355.6"/><use href="#c9" x="1427.6" y="356.6"/><use href="#c7" x="1422.0" y="365.2"/><use href="#c7" x="1431.8" y="366.2"/><use href="#c8" x="1426.2" y="374.8"/><use href="#c10" x="1525.6" y="430.8"/><use href="#c9" x="1524.2" y="449.0"/><use href="#c7" x="1406.6" y="302.9"/><use href="#c10" x="1416.4" y="303.9"/><use href="#c8" x="1426.2" y="304.9"/><use href="#c10" x="1436.0" y="305.9"/><use href="#c10" x="1440.2" y="315.5"/><use href="#c12" x="1518.6" y="323.5"/><use href="#c7" x="1434.6" y="324.1"/><use href="#c11" x="1522.8" y="333.1"/><use href="#c7" x="1429.0" y="332.7"/><use href="#c8" x="1438.8" y="333.7"/><use href="#c6" x="1423.4" y="341.3"/><use href="#c7" x="1433.2" y="342.3"/><use href="#c10" x="1521.4" y="351.3"/><use href="#c7" x="1417.8" y="349.9"/><use href="#c8" x="1427.6" y="350.9"/><use href="#c5" x="1438.8" y="397.9"/><use href="#c9" x="1525.6" y="425.1"/><use href="#c9" x="1410.8" y="306.8"/><use href="#c12" x="1522.8" y="327.4"/><use href="#c8" x="1438.8" y="328.0"/><use href="#c11" x="1521.4" y="345.6"/><use href="#c6" x="1438.8" y="392.2"/><use href="#c8" x="1525.6" y="419.4"/><use href="#c9" x="1410.8" y="301.1"/><use href="#c10" x="1405.2" y="309.7"/><use href="#c7" x="1438.8" y="322.3"/><use href="#c11" x="1521.4" y="339.9"/><use href="#c7" x="1525.6" y="413.7"/><use href="#c12" x="1521.4" y="334.2"/><use href="#c10" x="1525.6" y="343.8"/><use href="#c7" x="1437.4" y="329.1"/><use href="#c9" x="1524.2" y="356.3"/><use href="#c8" x="1528.4" y="430.1"/><use href="#c9" x="1527.0" y="448.3"/><use href="#c9" x="1524.2" y="350.6"/><use href="#c8" x="1528.4" y="424.4"/><use href="#c9" x="1527.0" y="442.6"/><use href="#c9" x="1524.2" y="344.9"/><use href="#c8" x="1527.0" y="436.9"/><use href="#c11" x="1527.0" y="425.5"/><use href="#c8" x="1529.8" y="436.2"/><use href="#c8" x="1529.8" y="430.5"/><use href="#c8" x="1529.8" y="424.8"/><use href="#c7" x="1531.2" y="448.0"/><use href="#c8" x="1531.2" y="442.3"/><use href="#c9" x="1531.2" y="436.6"/><use href="#c9" x="1531.2" y="430.9"/><use href="#c10" x="1531.2" y="425.2"/><use href="#c10" x="1535.4" y="429.1"/><use href="#c9" x="1534.0" y="447.3"/><use href="#c8" x="1543.8" y="436.9"/><use href="#c8" x="1532.6" y="442.7"/><use href="#c9" x="1532.6" y="437.0"/><use href="#c10" x="1542.4" y="438.0"/><use href="#c10" x="1532.6" y="431.3"/><use href="#c9" x="1542.4" y="432.3"/><use href="#c9" x="1532.6" y="425.6"/><use href="#c10" x="1536.8" y="435.2"/><use href="#c9" x="1541.0" y="439.1"/><use href="#c7" x="1535.4" y="447.7"/><use href="#c8" x="1535.4" y="442.0"/><use href="#c7" x="1539.6" y="445.9"/><use href="#c8" x="1542.4" y="445.2"/></g>
<path d="M1456.0 340.0L1647.6 525.0" stroke="#fff" stroke-opacity=".55" stroke-width=".8"/>
<polygon points="1191.0,157.3 1204.2,150.7 1395.9,334.6 1382.7,341.2" fill="rgba(150,150,150,.45)"/>
<polygon points="1204.2,150.7 1217.5,144.1 1409.2,328.0 1395.9,334.6" fill="rgba(222,222,222,.45)"/>
<polygon points="1217.5,144.1 1230.8,137.5 1422.4,321.4 1409.2,328.0" fill="rgba(150,150,150,.45)"/>
<polygon points="1230.8,137.5 1244.0,130.8 1435.6,314.8 1422.4,321.4" fill="rgba(222,222,222,.45)"/>
<polygon points="1244.0,130.8 1257.2,124.2 1448.9,308.1 1435.6,314.8" fill="rgba(150,150,150,.45)"/>
<polygon points="1257.2,124.2 1270.5,117.6 1462.1,301.5 1448.9,308.1" fill="rgba(222,222,222,.45)"/>
<polygon points="1270.5,117.6 1283.8,111.0 1475.3,294.9 1462.1,301.5" fill="rgba(150,150,150,.45)"/>
<polygon points="1283.8,111.0 1297.0,104.4 1488.6,288.3 1475.3,294.9" fill="rgba(222,222,222,.45)"/>
<polygon points="1297.0,104.4 1310.2,97.8 1501.8,281.7 1488.6,288.3" fill="rgba(150,150,150,.45)"/>
<polygon points="1310.2,97.8 1323.5,91.2 1515.1,275.1 1501.8,281.7" fill="rgba(222,222,222,.45)"/>
<polygon points="1323.5,91.2 1336.8,84.5 1528.3,268.5 1515.1,275.1" fill="rgba(150,150,150,.45)"/>
<polygon points="1336.8,84.5 1350.0,77.9 1541.5,261.9 1528.3,268.5" fill="rgba(222,222,222,.45)"/>
<polygon points="1350.0,77.9 1363.2,71.3 1554.8,255.3 1541.5,261.9" fill="rgba(150,150,150,.45)"/>
<polygon points="1363.2,71.3 1376.5,64.7 1568.0,248.7 1554.8,255.3" fill="rgba(222,222,222,.45)"/>
<polygon points="1376.5,64.7 1389.8,58.1 1581.2,242.1 1568.0,248.7" fill="rgba(150,150,150,.45)"/>
<polygon points="1389.8,58.1 1403.0,51.5 1594.5,235.4 1581.2,242.1" fill="rgba(222,222,222,.45)"/>
<polygon points="1403.0,51.5 1416.2,44.8 1607.7,228.8 1594.5,235.4" fill="rgba(150,150,150,.45)"/>
<polygon points="1416.2,44.8 1429.5,38.2 1620.9,222.2 1607.7,228.8" fill="rgba(222,222,222,.45)"/>
<polygon points="1429.5,38.2 1442.8,31.6 1634.2,215.6 1620.9,222.2" fill="rgba(150,150,150,.45)"/>
<polygon points="1442.8,31.6 1456.0,25.0 1647.4,209.0 1634.2,215.6" fill="rgba(222,222,222,.45)"/>
<polygon points="1191.0,157.3 1456.0,25.0 1647.4,209.0 1382.7,341.2" fill="none" stroke="#666" stroke-width=".6"/>
<path d="M1456.0 25.0V340.0" stroke="#3c3c3c" stroke-width=".75"/>
<path d="M1419.5 183V498" stroke="#f03cc8" stroke-width="1"/>
<path d="M1382.7 341.2L1383.4 658.0" stroke="#000" stroke-width="1.1"/>
<path d="M1647.4 209.0L1647.6 525.0" stroke="#000" stroke-width="1.1"/>
<polygon points="1335.4,85.1 1505.6,250.0 1504.8,233.7 1523.8,274.4 1482.5,256.7 1498.9,257.0 1328.6,92.1" fill="#ff4500"/>
</svg>
<div class="a" style="left:1196px;top:0;width:14px;height:698px;background:linear-gradient(90deg,rgba(120,120,120,.34),rgba(140,140,140,.14) 50%,rgba(255,255,255,0))"></div>
<div id="win">
<div class="a" style="left:-2px;top:0;width:1px;height:698px;background:#4f4f4f"></div><div class="a" style="left:-1px;top:0;width:1px;height:698px;background:#c9c9c9"></div>
<div class="a" style="left:-2px;top:696px;width:1196px;height:1px;background:#9c9c9c;z-index:5"></div><div class="a" style="left:-2px;top:697px;width:1196px;height:1px;background:#555;z-index:5"></div>
<div class="a" style="left:1192px;top:0;width:1px;height:698px;background:#a4a4a4;z-index:5"></div><div class="a" style="left:1193px;top:0;width:1px;height:698px;background:#585858;z-index:5"></div>
<!-- tab strip -->
<div class="hl" style="left:0;top:28px;width:1192px"></div>
<div class="a" style="left:25px;top:0px;width:84px;height:29px;background:#f7f7f7;border:1px solid #b4b4b4;border-bottom:none;border-radius:4px 4px 0 0"></div>
<svg class="a" style="left:5px;top:8px" width="14" height="10" viewBox="0 0 14 10"><path d="M2.5 2.5 L7 7 L11.5 2.5" fill="none" stroke="#333" stroke-width="1.2"/></svg>
<svg class="a" style="left:33px;top:6px" width="18" height="17" viewBox="0 0 18 17"><path d="M1.2 4 L8.3 1.2 L14.8 3.4 L14.8 11.3 L8.3 15.6 L1.2 12.6 Z" fill="#e2e2e2"/><path d="M8.3 6.8 L14.8 3.4 L14.8 11.3 L8.3 15.6 Z" fill="#cfcfcf"/><path d="M1.2 4 L8.3 1.2 L14.8 3.4 L8.3 6.8 Z" fill="#d6d6d6"/><path d="M1.2 6.9L8.3 9.7L14.8 6M1.2 9.8L8.3 12.7L14.8 8.7M10.5 5.7V14.2M12.7 4.5V12.7M2.6 4.6V13.2" stroke="#a9a9a9" stroke-width=".5" fill="none"/><path d="M4 5.1 L6.2 6 L6.2 14.8 L4 13.9 Z M4 5.1 L6.2 6 L11.6 2.4 L9.4 1.6 Z" fill="#1e86e8"/><path d="M1.2 4 L8.3 1.2 L14.8 3.4 L14.8 11.3 L8.3 15.6 L1.2 12.6 Z M1.2 4 L8.3 6.8 L14.8 3.4 M8.3 6.8 V15.6" fill="none" stroke="#6a6a6a" stroke-width="1" stroke-linejoin="round"/></svg>
<span class="t" id="t_tab" style="left:52.2px;top:8px;transform:scaleX(0.9341)">Swath</span>
<svg class="a" style="left:89px;top:9px" width="10" height="10" viewBox="0 0 10 10"><path d="M1.5 1.5 L8.5 8.5 M8.5 1.5 L1.5 8.5" stroke="#222" stroke-width="1.3" fill="none"/></svg>
<!-- toolbar -->
<span class="t" id="t_name" style="left:7.1px;top:43px;transform:scaleX(0.9718)"><u>N</u>ame:</span>
<div class="a" style="left:49px;top:38px;width:188px;height:23px;background:#fff;border:1px solid #7a7a7a;border-radius:3px"></div>
<span class="t" id="t_nameval" style="left:53.0px;top:43px;transform:scaleX(0.9341)">Swath</span>
<div class="vl" style="left:243px;top:39px;height:22px"></div>
<!-- export icon -->
<svg class="a" style="left:256px;top:36px" width="24" height="26" viewBox="0 0 24 26"><defs><linearGradient id="cy" x1="0" x2="1"><stop offset="0" stop-color="#1f5bd0"/><stop offset=".22" stop-color="#3d7ee6"/><stop offset=".5" stop-color="#b5d2fb"/><stop offset=".78" stop-color="#3d7ee6"/><stop offset="1" stop-color="#1f5bd0"/></linearGradient></defs><path d="M3.2 11 V20.5 A5.4 2.2 0 0 0 14 20.5 V11 Z" fill="url(#cy)" stroke="#1d55c2" stroke-width=".6"/><ellipse cx="8.6" cy="11" rx="5.4" ry="2.1" fill="#a9c9f7" stroke="#2a63cc" stroke-width=".6"/><path d="M7.9 7.6 C9.5 2.2 16.5 1.2 20.2 5.6" fill="none" stroke="#128a1e" stroke-width="1.4"/><path d="M16.9 4.6 L22.4 3 L21.9 8.6 Z" fill="#128a1e"/></svg>
<span class="t" id="t_export" style="left:283.1px;top:43px;transform:scaleX(0.9395)">Export</span>
<!-- copy icon -->
<svg class="a" style="left:330px;top:38px" width="22" height="21" viewBox="0 0 22 21"><path d="M.5 1.5 H14.5 V14 H.5 Z" fill="#f9f9f9" stroke="#8c8c8c"/><path d="M2.5 4.5H12.5M2.5 7H12.5M2.5 9.5H12.5M2.5 12H6" stroke="#b4b4b4"/><path d="M6.5 5.5 H20.5 V15.5 L17.5 18.5 H6.5 Z" fill="#fcfcfc" stroke="#8c8c8c"/><path d="M17.5 18.5 V15.5 H20.5" fill="#dcdcdc" stroke="#8c8c8c"/><path d="M8.5 8.5H18.5M8.5 11H18.5M8.5 13.5H18.5M8.5 16H15.5" stroke="#adadad"/></svg>
<span class="t" id="t_copy" style="left:354.5px;top:43px;transform:scaleX(0.9821)">Copy</span>
<svg class="a" style="left:386px;top:45.5px" width="10" height="8" viewBox="0 0 10 8"><path d="M1.5 2 L5 5.5 L8.5 2" fill="none" stroke="#333" stroke-width="1.2"/></svg>
<div class="vl" style="left:408px;top:39px;height:22px"></div>
<!-- plus icon -->
<svg class="a" style="left:421px;top:38px" width="24" height="24" viewBox="0 0 24 24"><defs><linearGradient id="pl" x1="0" y1="0" x2="1" y2="1"><stop offset="0" stop-color="#a3c0e6"/><stop offset="1" stop-color="#5583c0"/></linearGradient></defs><path d="M9 1.5 H15 V9 H22.5 V15 H15 V22.5 H9 V15 H1.5 V9 H9 Z" fill="url(#pl)" stroke="#2e5c9e" stroke-width="1.2"/></svg>
<span class="t" id="t_sel" style="left:448.4px;top:43px;transform:scaleX(0.9789)">Select Numeric Items</span>
<div class="vl" style="left:571px;top:39px;height:22px"></div>
<!-- lifebuoy -->
<svg class="a" style="left:583px;top:37px" width="26" height="26" viewBox="0 0 26 26"><g fill="none" stroke="#a8741c" stroke-width="1"><circle cx="5" cy="5" r="2.6"/><circle cx="21" cy="5" r="2.6"/><circle cx="5" cy="21" r="2.6"/><circle cx="21" cy="21" r="2.6"/></g><circle cx="13" cy="13" r="7.75" fill="none" stroke="#fbfbfb" stroke-width="6.3"/><circle cx="13" cy="13" r="7.75" fill="none" stroke="#f5242a" stroke-width="5.4" stroke-dasharray="4.3 7.874" stroke-dashoffset="-3.94"/><circle cx="13" cy="13" r="10.9" fill="none" stroke="#777" stroke-width=".9"/><circle cx="13" cy="13" r="4.6" fill="#f0f0f0" stroke="#7d7d7d" stroke-width=".9"/></svg>
<div class="hl" style="left:0;top:70px;width:1192px;background:#b8b8b8"></div>
<!-- left panel -->
<svg class="a" style="left:3px;top:78px" width="12" height="12" viewBox="0 0 12 12"><path d="M1 1.5 H10.6 L5.8 10.8 Z" fill="#3a3a3a"/></svg>
<span class="t" id="t_sec" style="left:19.1px;top:77px;transform:scaleX(0.9687)">Swath / Values setup</span>
<div class="hl" style="left:0;top:96px;width:305px;background:#c6c6c6"></div>
<div class="vl" style="left:305px;top:71px;height:625px;background:#c2c2c2"></div>
<!-- radios -->
<div class="a" style="left:101.7px;top:109.5px;width:88.8px;height:30.5px;border:3px solid #ff4500"></div>
<svg class="a" style="left:19px;top:117px" width="200" height="16" viewBox="0 0 200 16"><circle cx="7" cy="7.8" r="5.5" fill="#fff" stroke="#555" stroke-width="1"/><circle cx="96" cy="7.8" r="5.5" fill="#fff" stroke="#444" stroke-width="1"/><circle cx="96" cy="7.8" r="2.6" fill="#111"/><circle cx="184.7" cy="7.8" r="5.5" fill="#fff" stroke="#555" stroke-width="1"/></svg>
<span class="t" id="t_rx" style="left:37.7px;top:118px;transform:scaleX(0.9599)">Swath in <u>X</u></span>
<span class="t" id="t_ry" style="left:126.7px;top:118px;transform:scaleX(0.9581)">Swath in <u>Y</u></span>
<span class="t" id="t_rz" style="left:215.4px;top:118px;transform:scaleX(0.9806)">Swath in <u>Z</u></span>
<!-- swath size -->
<span class="t" id="t_ss" style="left:18.2px;top:147px;transform:scaleX(0.9153)"><u>S</u>wath size:</span>
<div class="a" style="left:89px;top:143px;width:191px;height:22px;background:#fff;border:1px solid #8a8a8a;border-radius:3px"></div>
<div class="a" style="left:267px;top:144px;width:12px;height:20px;background:#f4f4f4;border-left:1px solid #c8c8c8;border-radius:0 3px 3px 0"></div>
<svg class="a" style="left:268px;top:145px" width="10" height="18" viewBox="0 0 10 18"><path d="M2.5 6 L5 3.5 L7.5 6" fill="none" stroke="#333" stroke-width="1"/><path d="M2.5 12 L5 14.5 L7.5 12" fill="none" stroke="#b5b5b5" stroke-width="1"/></svg>
<span class="t" id="t_ssv" style="left:93px;top:147px">1</span>
<!-- index filter -->
<span class="t" id="t_rng" style="left:169.5px;top:173px;transform:scaleX(0.8982)">1 – 20</span>
<span class="t" id="t_if" style="left:18.2px;top:185px;transform:scaleX(0.9761)">Index filter:</span>
<div class="a" style="left:89px;top:191px;width:191px;height:18px;border:1px solid #8f8f8f;border-radius:3px;background:linear-gradient(180deg,#6ea7dd 0%,#85b6e3 45%,#a6cbec 100%)"></div>
<div class="a" style="left:89px;top:191px;width:10px;height:18px;border:1px solid #9a9a9a;border-radius:3px;background:linear-gradient(180deg,#fdfdfd,#e4e4e4)"></div>
<div class="a" style="left:270px;top:191px;width:10px;height:18px;border:1px solid #9a9a9a;border-radius:3px;background:linear-gradient(180deg,#fdfdfd,#e4e4e4)"></div>
<svg class="a" style="left:180px;top:195px" width="9" height="10" viewBox="0 0 9 10"><path d="M1.5 1V9M4.5 1V9M7.5 1V9" stroke="#5f8fc2" stroke-width="1"/></svg>
<!-- selected items -->
<span class="t" id="t_si" style="left:18.2px;top:224px;transform:scaleX(0.9549)">S<u>e</u>lected items:</span>
<div class="a" style="left:18px;top:244px;width:263px;height:434px;background:#fff;border:1px solid #9c9c9c"></div>
<span class="t" id="t_ev" style="left:40.0px;top:248px;font-size:10px;font-weight:bold;color:#7a7a7a;transform:scaleX(0.9801)">EVALUATIONS</span>
<div class="a" style="left:19px;top:263px;width:261px;height:21px;border-top:1px solid #f3a533;background:linear-gradient(180deg,#fde3b5 0%,#fbc878 50%,#f9b650 100%)"></div>
<svg class="a" style="left:22px;top:267.6px" width="12" height="12" viewBox="0 0 12 12"><path d="M.4 .6 H10.7 L5.5 10.6 Z" fill="#342a18"/></svg>
<!-- block model icon -->
<svg class="a" style="left:37px;top:266px" width="18" height="16" viewBox="0 0 18 16"><defs><linearGradient id="zn" gradientUnits="userSpaceOnUse" x1="6" y1="2.5" x2="12" y2="11.5"><stop offset="0" stop-color="#35b54a"/><stop offset=".2" stop-color="#9fd43a"/><stop offset=".33" stop-color="#f3e22a"/><stop offset=".48" stop-color="#e8392a"/><stop offset=".62" stop-color="#f0d82a"/><stop offset=".8" stop-color="#86d23c"/><stop offset="1" stop-color="#2fc7a8"/></linearGradient></defs><path d="M1 7.6 L8 2 L17 6.3 L17 9.6 L9.6 14.8 L1 10.6 Z" fill="#3f9a3a"/><path d="M9.6 11.8 L17 6.3 L17 9.6 L9.6 14.8 Z" fill="#46b9a0"/><path d="M1 7.6 L9.6 11.8 L9.6 14.8 L1 10.6 Z" fill="#58a83a"/><path d="M1 7.6 L8 2 L17 6.3 L9.6 11.8 Z" fill="url(#zn)"/></svg>
<span class="t" id="t_zn" style="left:58.0px;top:267px;transform:scaleX(0.9418)">Zn_pc in LMS1</span>
<div class="row" style="left:19px;top:305px;background:#e9f1fb"></div>
<div class="row" style="left:19px;top:347px;background:#e9f1fb"></div>
<svg width="0" height="0" style="position:absolute"><defs><radialGradient id="gb" cx=".32" cy=".4" r=".8"><stop offset="0" stop-color="#bdbdbd"/><stop offset=".5" stop-color="#858585"/><stop offset="1" stop-color="#4a4a4a"/></radialGradient><radialGradient id="rb" cx=".45" cy=".55" r=".6"><stop offset="0" stop-color="#e8412a"/><stop offset=".35" stop-color="#f0b429"/><stop offset=".6" stop-color="#7ed04b"/><stop offset=".85" stop-color="#49c6d9"/><stop offset="1" stop-color="#3f8fd6"/></radialGradient></defs></svg>
<svg class="a" style="left:55px;top:286.0px" width="18" height="18" viewBox="0 0 18 18"><ellipse cx="7.2" cy="7.6" rx="6.4" ry="7.1" fill="url(#gb)" stroke="#3c3c3c" stroke-width=".8"/><rect x="6.4" y="7.4" width="8.7" height="3" fill="#fcfc0a" stroke="#1a1a1a" stroke-width=".8"/><rect x="6.4" y="12.5" width="8.7" height="3" fill="#fcfc0a" stroke="#1a1a1a" stroke-width=".8"/></svg>
<span class="t" id="t_r0" style="left:75.3px;top:287.6px;transform:scaleX(0.9344)">Kr Generou..._pc in LMS1</span>
<svg class="a" style="left:215px;top:285.6px" width="15" height="16" viewBox="0 0 15 16"><path d="M.5 15.5 V8.5 H5 V1.5 H9.5 V6.5 H14.5 V15.5 Z" fill="#cdd0d6"/><path d="M5 8.5V15.5M9.5 6.5V15.5" stroke="#bcc0c7" stroke-width=".6"/><path d="M.5 12H14.5M5 5H9.5M.5 9.9H14.5" stroke="#c6c9ce" stroke-width=".4"/></svg>
<svg class="a" style="left:234px;top:287.6px" width="16" height="14" viewBox="0 0 16 14"><path d="M.7 11.8 L4.5 2.2 L7.7 7.9 L10.9 5.4 L14.2 11.2" fill="none" stroke="#111" stroke-width="1.5" stroke-linejoin="round" stroke-linecap="round"/></svg>
<div class="sw" style="left:254px;top:286.0px;background:#5fd9d4"></div>
<svg class="a" style="left:55px;top:307.0px" width="18" height="18" viewBox="0 0 18 18"><ellipse cx="7.2" cy="7.6" rx="6.4" ry="7.1" fill="url(#gb)" stroke="#3c3c3c" stroke-width=".8"/><rect x="6.4" y="7.4" width="8.7" height="3" fill="#fcfc0a" stroke="#1a1a1a" stroke-width=".8"/><rect x="6.4" y="12.5" width="8.7" height="3" fill="#fcfc0a" stroke="#1a1a1a" stroke-width=".8"/></svg>
<span class="t" id="t_r1" style="left:75.3px;top:308.6px;transform:scaleX(0.9448)">Kr Semi-stri..._pc in LMS1</span>
<svg class="a" style="left:215px;top:306.6px" width="15" height="16" viewBox="0 0 15 16"><path d="M.5 15.5 V8.5 H5 V1.5 H9.5 V6.5 H14.5 V15.5 Z" fill="#cdd0d6"/><path d="M5 8.5V15.5M9.5 6.5V15.5" stroke="#bcc0c7" stroke-width=".6"/><path d="M.5 12H14.5M5 5H9.5M.5 9.9H14.5" stroke="#c6c9ce" stroke-width=".4"/></svg>
<svg class="a" style="left:234px;top:308.6px" width="16" height="14" viewBox="0 0 16 14"><path d="M.7 11.8 L4.5 2.2 L7.7 7.9 L10.9 5.4 L14.2 11.2" fill="none" stroke="#111" stroke-width="1.5" stroke-linejoin="round" stroke-linecap="round"/></svg>
<div class="sw" style="left:254px;top:307.0px;background:#9f8cf9"></div>
<svg class="a" style="left:55px;top:328.0px" width="18" height="18" viewBox="0 0 18 18"><ellipse cx="7.2" cy="7.6" rx="6.4" ry="7.1" fill="url(#gb)" stroke="#3c3c3c" stroke-width=".8"/><rect x="6.4" y="7.4" width="8.7" height="3" fill="#fcfc0a" stroke="#1a1a1a" stroke-width=".8"/><rect x="6.4" y="12.5" width="8.7" height="3" fill="#fcfc0a" stroke="#1a1a1a" stroke-width=".8"/></svg>
<span class="t" id="t_r2" style="left:75.3px;top:329.6px;transform:scaleX(0.956)">Point Kr, Zn_pc in LMS1</span>
<svg class="a" style="left:215px;top:327.6px" width="15" height="16" viewBox="0 0 15 16"><path d="M.5 15.5 V8.5 H5 V1.5 H9.5 V6.5 H14.5 V15.5 Z" fill="#cdd0d6"/><path d="M5 8.5V15.5M9.5 6.5V15.5" stroke="#bcc0c7" stroke-width=".6"/><path d="M.5 12H14.5M5 5H9.5M.5 9.9H14.5" stroke="#c6c9ce" stroke-width=".4"/></svg>
<svg class="a" style="left:234px;top:329.6px" width="16" height="14" viewBox="0 0 16 14"><path d="M.7 11.8 L4.5 2.2 L7.7 7.9 L10.9 5.4 L14.2 11.2" fill="none" stroke="#111" stroke-width="1.5" stroke-linejoin="round" stroke-linecap="round"/></svg>
<div class="sw" style="left:254px;top:328.0px;background:#f0643b"></div>
<svg class="a" style="left:55px;top:349.0px" width="18" height="18" viewBox="0 0 18 18"><ellipse cx="7.2" cy="7.6" rx="6.4" ry="7.1" fill="url(#rb)" stroke="#4a8fd0" stroke-width=".9"/><rect x="6.4" y="7.4" width="8.7" height="3" fill="#fcfc0a" stroke="#1a1a1a" stroke-width=".8"/><rect x="6.4" y="12.5" width="8.7" height="3" fill="#fcfc0a" stroke="#1a1a1a" stroke-width=".8"/></svg>
<span class="t" id="t_r3" style="left:75.3px;top:350.6px;transform:scaleX(0.9236)">RBF, Zn_pc in LMS1</span>
<svg class="a" style="left:215px;top:348.6px" width="15" height="16" viewBox="0 0 15 16"><path d="M.5 15.5 V8.5 H5 V1.5 H9.5 V6.5 H14.5 V15.5 Z" fill="#cdd0d6"/><path d="M5 8.5V15.5M9.5 6.5V15.5" stroke="#bcc0c7" stroke-width=".6"/><path d="M.5 12H14.5M5 5H9.5M.5 9.9H14.5" stroke="#c6c9ce" stroke-width=".4"/></svg>
<svg class="a" style="left:234px;top:350.6px" width="16" height="14" viewBox="0 0 16 14"><path d="M.7 11.8 L4.5 2.2 L7.7 7.9 L10.9 5.4 L14.2 11.2" fill="none" stroke="#111" stroke-width="1.5" stroke-linejoin="round" stroke-linecap="round"/></svg>
<div class="sw" style="left:254px;top:349.0px;background:#0b3d38"></div>
<div class="a" style="left:301px;top:393px;width:1px;height:8px;background:repeating-linear-gradient(180deg,#8a8a8a 0 1px,transparent 1px 3px)"></div>
<!-- chart area -->
<div class="a" style="left:306px;top:71px;width:886px;height:625px;background:#fff"></div>
<svg class="a" style="left:-2px;top:0" width="1196" height="698" viewBox="0 0 1196 698" font-family="Liberation Sans, sans-serif">
<path d="M409 584.1H1094" stroke="#a6a6a6" stroke-width="1" stroke-dasharray="1.2 2.7" fill="none"/>
<path d="M409 525.7H1094" stroke="#a6a6a6" stroke-width="1" stroke-dasharray="1.2 2.7" fill="none"/>
<path d="M409 467.2H1094" stroke="#a6a6a6" stroke-width="1" stroke-dasharray="1.2 2.7" fill="none"/>
<path d="M409 408.8H1094" stroke="#a6a6a6" stroke-width="1" stroke-dasharray="1.2 2.7" fill="none"/>
<path d="M409 350.4H1094" stroke="#a6a6a6" stroke-width="1" stroke-dasharray="1.2 2.7" fill="none"/>
<path d="M409 292.0H1094" stroke="#a6a6a6" stroke-width="1" stroke-dasharray="1.2 2.7" fill="none"/>
<path d="M409 233.6H1094" stroke="#a6a6a6" stroke-width="1" stroke-dasharray="1.2 2.7" fill="none"/>
<path d="M409 175.1H1094" stroke="#a6a6a6" stroke-width="1" stroke-dasharray="1.2 2.7" fill="none"/>
<path d="M473.6 334.5 L506.3 355.4 L539.0 332.5 L571.6 358.0 L604.3 405.7 L637.0 406.5 L669.6 406.5 L702.3 373.2 L735.0 333.3 L767.6 308.0 L800.3 285.0 L833.0 273.9 L865.6 282.0 L898.3 292.5 L931.0 264.6 L963.6 190.4" fill="none" stroke="#5fd9d4" stroke-width="1.4" stroke-linejoin="round"/>
<circle cx="473.6" cy="334.5" r="4.6" fill="#5fd9d4"/>
<circle cx="506.3" cy="355.4" r="4.6" fill="#5fd9d4"/>
<circle cx="539.0" cy="332.5" r="4.6" fill="#5fd9d4"/>
<circle cx="571.6" cy="358.0" r="4.6" fill="#5fd9d4"/>
<circle cx="604.3" cy="405.7" r="4.6" fill="#5fd9d4"/>
<circle cx="637.0" cy="406.5" r="4.6" fill="#5fd9d4"/>
<circle cx="669.6" cy="406.5" r="4.6" fill="#5fd9d4"/>
<circle cx="702.3" cy="373.2" r="4.6" fill="#5fd9d4"/>
<circle cx="735.0" cy="333.3" r="4.6" fill="#5fd9d4"/>
<circle cx="767.6" cy="308.0" r="4.6" fill="#5fd9d4"/>
<circle cx="800.3" cy="285.0" r="4.6" fill="#5fd9d4"/>
<circle cx="833.0" cy="273.9" r="4.6" fill="#5fd9d4"/>
<circle cx="865.6" cy="282.0" r="4.6" fill="#5fd9d4"/>
<circle cx="898.3" cy="292.5" r="4.6" fill="#5fd9d4"/>
<circle cx="931.0" cy="264.6" r="4.6" fill="#5fd9d4"/>
<circle cx="963.6" cy="190.4" r="4.6" fill="#5fd9d4"/>
<path d="M539.0 297.4 L571.6 305.4 L604.3 399.5 L637.0 372.4 L669.6 522.4 L702.3 612.3 L735.0 271.4 L767.6 304.3 L800.3 253.5 L833.0 276.4 L865.6 257.4 L898.3 307.9 L931.0 397.1" fill="none" stroke="#9f8cf9" stroke-width="1.4" stroke-linejoin="round"/>
<circle cx="473.6" cy="283.5" r="4.6" fill="#9f8cf9"/>
<circle cx="539.0" cy="297.4" r="4.6" fill="#9f8cf9"/>
<circle cx="571.6" cy="305.4" r="4.6" fill="#9f8cf9"/>
<circle cx="604.3" cy="399.5" r="4.6" fill="#9f8cf9"/>
<circle cx="637.0" cy="372.4" r="4.6" fill="#9f8cf9"/>
<circle cx="669.6" cy="522.4" r="4.6" fill="#9f8cf9"/>
<circle cx="702.3" cy="612.3" r="4.6" fill="#9f8cf9"/>
<circle cx="735.0" cy="271.4" r="4.6" fill="#9f8cf9"/>
<circle cx="767.6" cy="304.3" r="4.6" fill="#9f8cf9"/>
<circle cx="800.3" cy="253.5" r="4.6" fill="#9f8cf9"/>
<circle cx="833.0" cy="276.4" r="4.6" fill="#9f8cf9"/>
<circle cx="865.6" cy="257.4" r="4.6" fill="#9f8cf9"/>
<circle cx="898.3" cy="307.9" r="4.6" fill="#9f8cf9"/>
<circle cx="931.0" cy="397.1" r="4.6" fill="#9f8cf9"/>
<path d="M473.6 348.4 L506.3 543.2 L539.0 447.4 L571.6 510.5 L604.3 570.3 L637.0 522.4 L669.6 544.5 L702.3 499.4 L735.0 501.4 L767.6 503.2 L800.3 459.1 L833.0 432.6 L865.6 460.2 L898.3 483.5 L931.0 563.3 L963.6 467.0" fill="none" stroke="#f0643b" stroke-width="1.4" stroke-linejoin="round"/>
<circle cx="473.6" cy="348.4" r="4.6" fill="#f0643b"/>
<circle cx="506.3" cy="543.2" r="4.6" fill="#f0643b"/>
<circle cx="539.0" cy="447.4" r="4.6" fill="#f0643b"/>
<circle cx="571.6" cy="510.5" r="4.6" fill="#f0643b"/>
<circle cx="604.3" cy="570.3" r="4.6" fill="#f0643b"/>
<circle cx="637.0" cy="522.4" r="4.6" fill="#f0643b"/>
<circle cx="669.6" cy="544.5" r="4.6" fill="#f0643b"/>
<circle cx="702.3" cy="499.4" r="4.6" fill="#f0643b"/>
<circle cx="735.0" cy="501.4" r="4.6" fill="#f0643b"/>
<circle cx="767.6" cy="503.2" r="4.6" fill="#f0643b"/>
<circle cx="800.3" cy="459.1" r="4.6" fill="#f0643b"/>
<circle cx="833.0" cy="432.6" r="4.6" fill="#f0643b"/>
<circle cx="865.6" cy="460.2" r="4.6" fill="#f0643b"/>
<circle cx="898.3" cy="483.5" r="4.6" fill="#f0643b"/>
<circle cx="931.0" cy="563.3" r="4.6" fill="#f0643b"/>
<circle cx="963.6" cy="467.0" r="4.6" fill="#f0643b"/>
<path d="M473.6 306.7 L506.3 399.5 L539.0 310.3 L571.6 365.2 L604.3 410.1 L637.0 418.1 L669.6 419.4 L702.3 386.4 L735.0 352.3 L767.6 315.1 L800.3 290.3 L833.0 280.3 L865.6 282.1 L898.3 304.3 L931.0 258.1 L963.6 232.3" fill="none" stroke="#0b3d38" stroke-width="1.4" stroke-linejoin="round"/>
<circle cx="473.6" cy="306.7" r="4.6" fill="#0b3d38"/>
<circle cx="506.3" cy="399.5" r="4.6" fill="#0b3d38"/>
<circle cx="539.0" cy="310.3" r="4.6" fill="#0b3d38"/>
<circle cx="571.6" cy="365.2" r="4.6" fill="#0b3d38"/>
<circle cx="604.3" cy="410.1" r="4.6" fill="#0b3d38"/>
<circle cx="637.0" cy="418.1" r="4.6" fill="#0b3d38"/>
<circle cx="669.6" cy="419.4" r="4.6" fill="#0b3d38"/>
<circle cx="702.3" cy="386.4" r="4.6" fill="#0b3d38"/>
<circle cx="735.0" cy="352.3" r="4.6" fill="#0b3d38"/>
<circle cx="767.6" cy="315.1" r="4.6" fill="#0b3d38"/>
<circle cx="800.3" cy="290.3" r="4.6" fill="#0b3d38"/>
<circle cx="833.0" cy="280.3" r="4.6" fill="#0b3d38"/>
<circle cx="865.6" cy="282.1" r="4.6" fill="#0b3d38"/>
<circle cx="898.3" cy="304.3" r="4.6" fill="#0b3d38"/>
<circle cx="931.0" cy="258.1" r="4.6" fill="#0b3d38"/>
<circle cx="963.6" cy="232.3" r="4.6" fill="#0b3d38"/>
<rect x="408.3" y="145.5" width="686" height="496.7" fill="none" stroke="#000" stroke-width="1.6"/>
<path d="M409 584.1h4.5" stroke="#000" stroke-width="1"/>
<path d="M409 525.7h4.5" stroke="#000" stroke-width="1"/>
<path d="M409 467.2h4.5" stroke="#000" stroke-width="1"/>
<path d="M409 408.8h4.5" stroke="#000" stroke-width="1"/>
<path d="M409 350.4h4.5" stroke="#000" stroke-width="1"/>
<path d="M409 292.0h4.5" stroke="#000" stroke-width="1"/>
<path d="M409 233.6h4.5" stroke="#000" stroke-width="1"/>
<path d="M409 175.1h4.5" stroke="#000" stroke-width="1"/>
<rect x="414.5" y="152.5" width="225.5" height="80" rx="3" fill="#fff" fill-opacity=".8" stroke="#d2d2d2" stroke-width="1"/>
<path d="M420.2 162.2H446.8" stroke="#5fd9d4" stroke-width="1.4"/><circle cx="433.5" cy="162.2" r="4.6" fill="#5fd9d4"/>
<text id="t_lg0" x="457.3" y="166.9" font-size="13.3">Kr Generous, Zn_pc in LMS1</text>
<path d="M420.2 181.3H446.8" stroke="#9f8cf9" stroke-width="1.4"/><circle cx="433.5" cy="181.3" r="4.6" fill="#9f8cf9"/>
<text id="t_lg1" x="457.3" y="186.0" font-size="13.3">Kr Semi-strict, Zn_pc in LMS1</text>
<path d="M420.2 200.4H446.8" stroke="#f0643b" stroke-width="1.4"/><circle cx="433.5" cy="200.4" r="4.6" fill="#f0643b"/>
<text id="t_lg2" x="457.3" y="205.1" font-size="13.3">Point Kr, Zn_pc in LMS1</text>
<path d="M420.2 219.5H446.8" stroke="#0b3d38" stroke-width="1.4"/><circle cx="433.5" cy="219.5" r="4.6" fill="#0b3d38"/>
<text id="t_lg3" x="457.3" y="224.2" font-size="13.3">RBF, Zn_pc in LMS1</text>
<text id="t_title" x="750.2" y="136.6" font-size="13.3" font-weight="bold" text-anchor="middle">Swathplot in Y, 1 block spacing</text>
<text id="t_xl" x="751" y="669.6" font-size="13.3" text-anchor="middle">Swath</text>
<text id="t_yl" transform="translate(376.3 393.5) rotate(-90)" font-size="13.3" text-anchor="middle">Average</text>
<text x="402.5" y="646.1" font-size="10" text-anchor="end" letter-spacing="-.4">0</text>
<text x="402.5" y="587.7" font-size="10" text-anchor="end" letter-spacing="-.4">2</text>
<text x="402.5" y="529.3" font-size="10" text-anchor="end" letter-spacing="-.4">4</text>
<text x="402.5" y="470.8" font-size="10" text-anchor="end" letter-spacing="-.4">6</text>
<text x="402.5" y="412.4" font-size="10" text-anchor="end" letter-spacing="-.4">8</text>
<text x="402.5" y="354.0" font-size="10" text-anchor="end" letter-spacing="-.4">10</text>
<text x="402.5" y="295.6" font-size="10" text-anchor="end" letter-spacing="-.4">12</text>
<text x="402.5" y="237.2" font-size="10" text-anchor="end" letter-spacing="-.4">14</text>
<text x="402.5" y="178.7" font-size="10" text-anchor="end" letter-spacing="-.4">16</text>
<text x="408.0" y="654.3" font-size="10" text-anchor="middle" letter-spacing="-.4">0</text>
<text x="506.0" y="654.3" font-size="10" text-anchor="middle" letter-spacing="-.4">3</text>
<text x="604.0" y="654.3" font-size="10" text-anchor="middle" letter-spacing="-.4">6</text>
<text x="702.0" y="654.3" font-size="10" text-anchor="middle" letter-spacing="-.4">9</text>
<text x="800.0" y="654.3" font-size="10" text-anchor="middle" letter-spacing="-.4">12</text>
<text x="898.0" y="654.3" font-size="10" text-anchor="middle" letter-spacing="-.4">15</text>
<text x="996.0" y="654.3" font-size="10" text-anchor="middle" letter-spacing="-.4">18</text>
<text x="1094.0" y="654.3" font-size="10" text-anchor="middle" letter-spacing="-.4">21</text>
</svg>
</div>
</body></html>
